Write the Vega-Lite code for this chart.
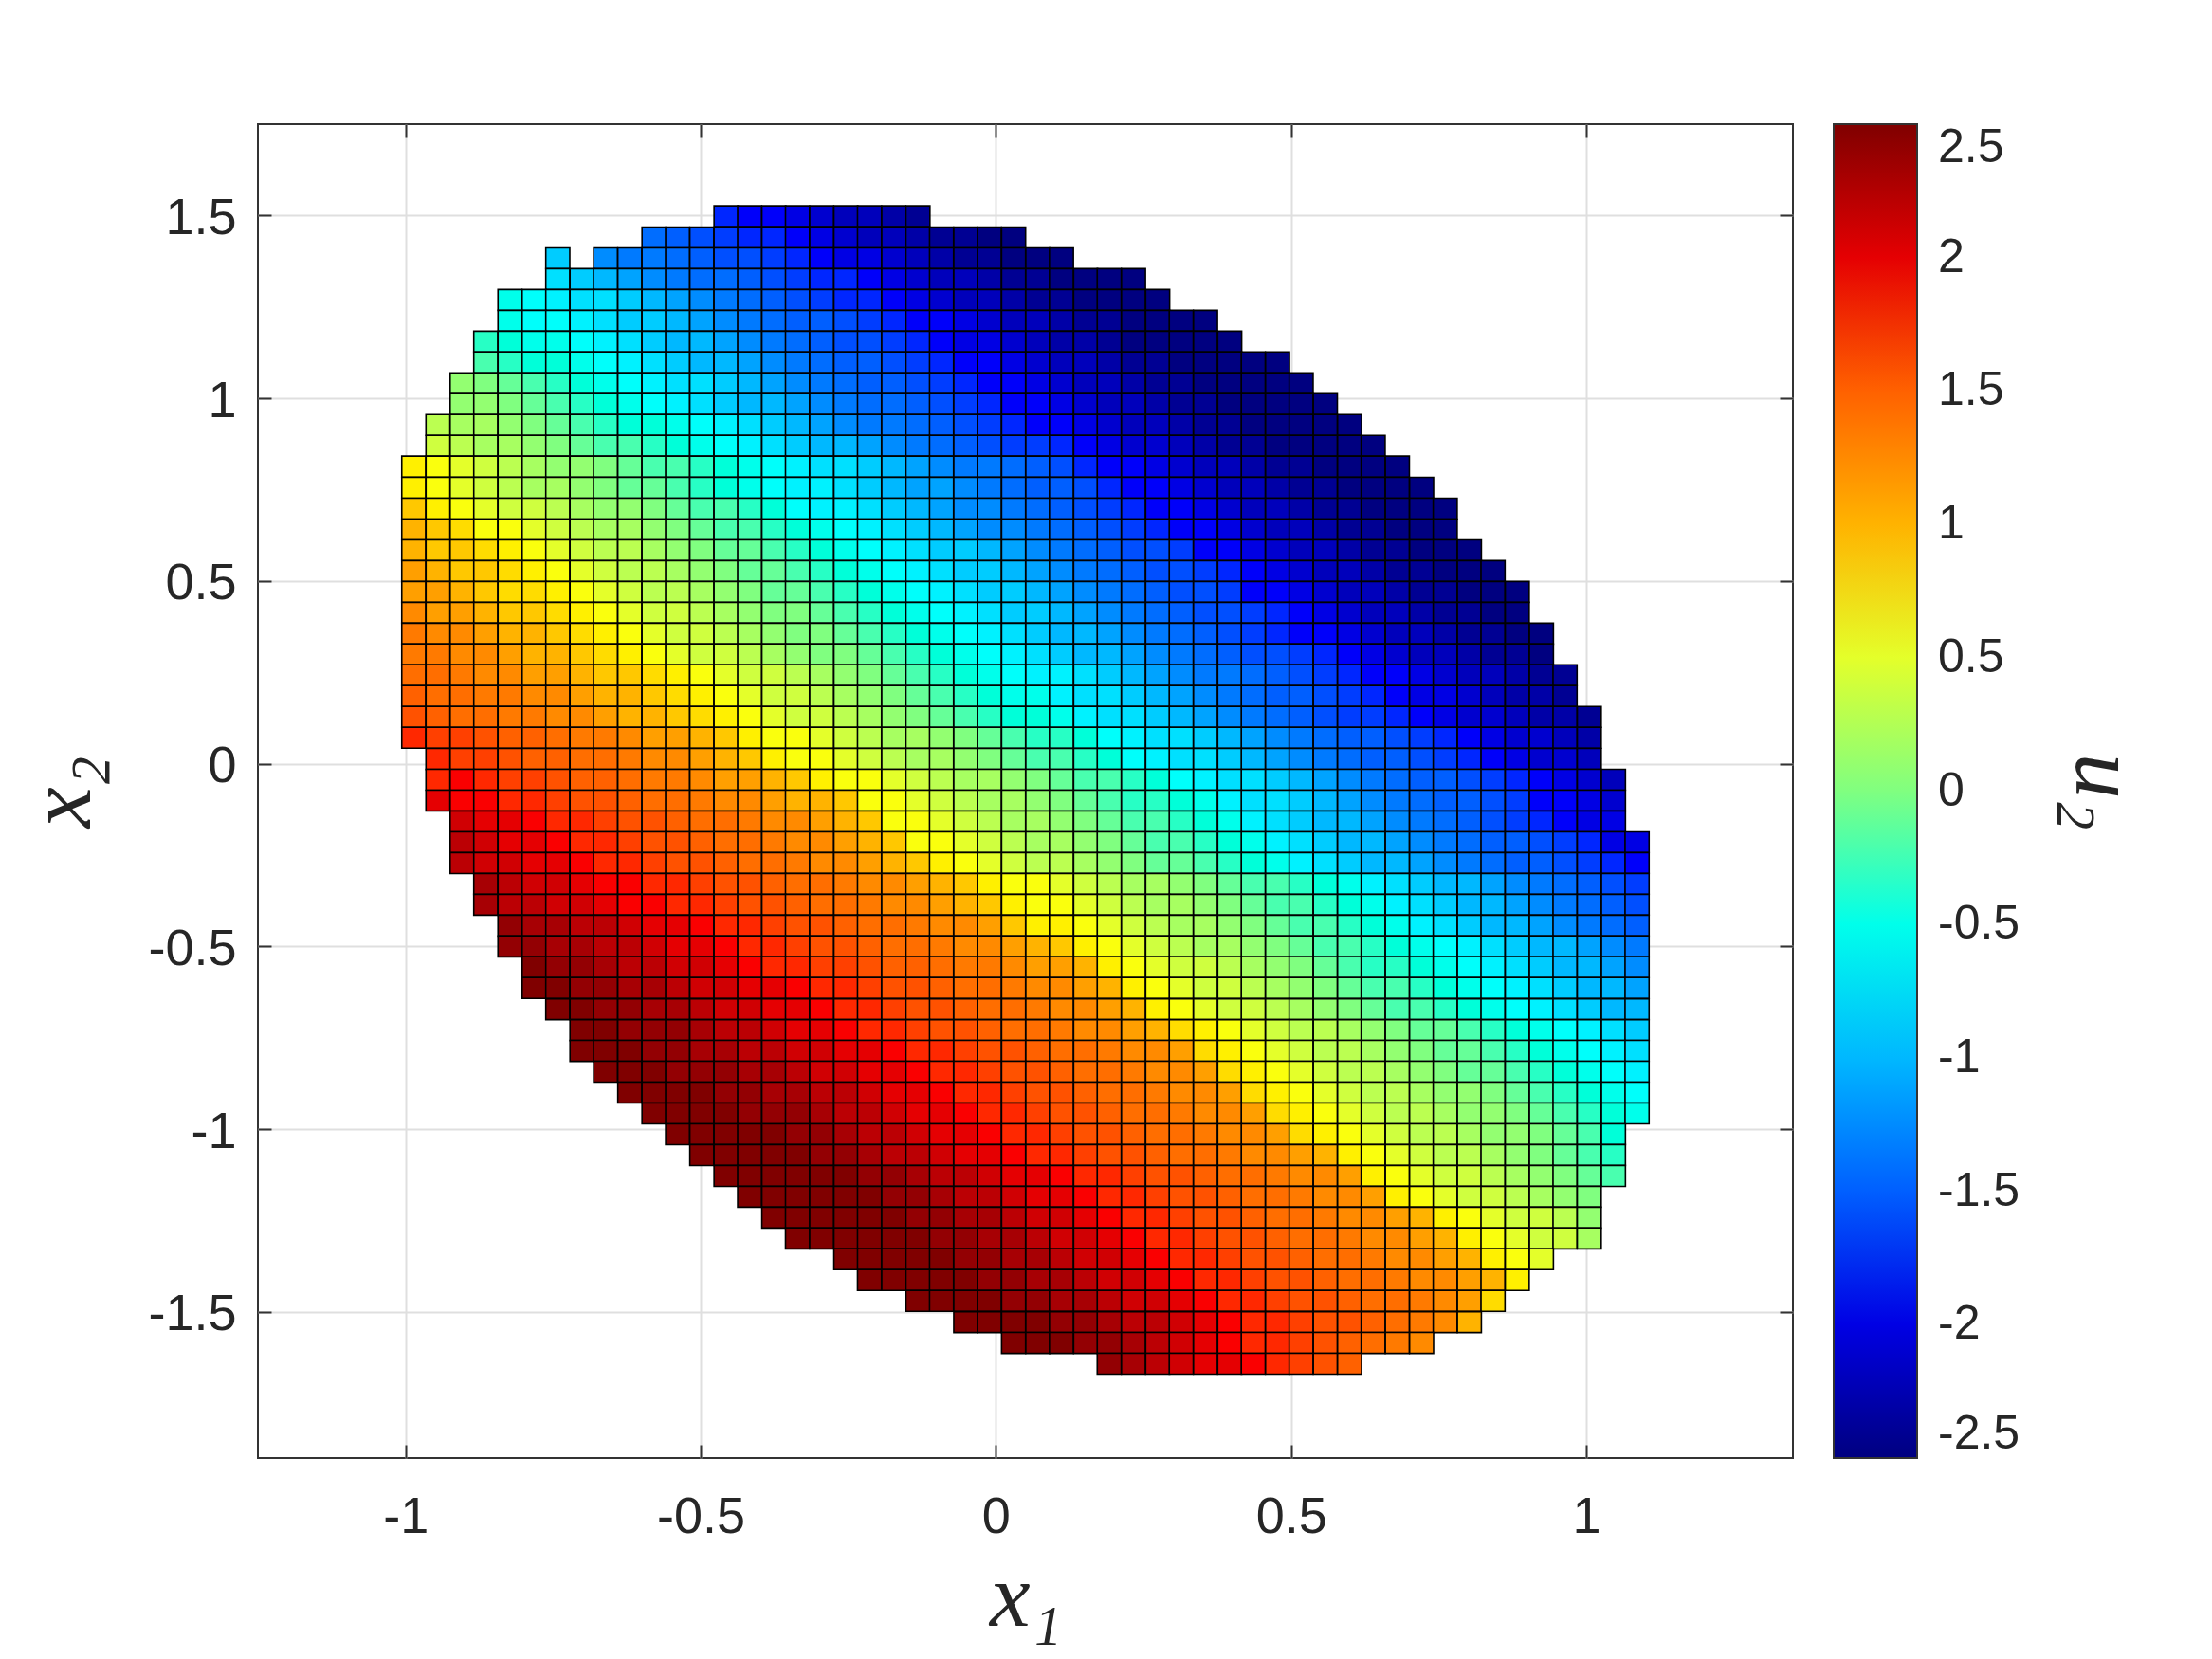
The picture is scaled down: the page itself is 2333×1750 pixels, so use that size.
{"$schema":"https://vega.github.io/schema/vega-lite/v6.json","width":1619,"height":1407,"autosize":"none","padding":{"left":272,"top":131,"right":442,"bottom":212},"background":"white","config":{"view":{"stroke":"#333333","strokeWidth":2},"font":"Liberation Sans"},"data":{"values":[
{"x":-0.457,"y":1.498,"z":-1.8},{"x":-0.417,"y":1.498,"z":-1.9},{"x":-0.376,"y":1.498,"z":-1.9},{"x":-0.336,"y":1.498,"z":-2.0},{"x":-0.295,"y":1.498,"z":-2.1},{"x":-0.254,"y":1.498,"z":-2.2},{"x":-0.214,"y":1.498,"z":-2.2},{"x":-0.173,"y":1.498,"z":-2.3},{"x":-0.132,"y":1.498,"z":-2.4},
{"x":-0.579,"y":1.44,"z":-1.4},{"x":-0.539,"y":1.44,"z":-1.5},{"x":-0.498,"y":1.44,"z":-1.6},{"x":-0.457,"y":1.44,"z":-1.7},{"x":-0.417,"y":1.44,"z":-1.8},{"x":-0.376,"y":1.44,"z":-1.8},{"x":-0.336,"y":1.44,"z":-1.9},{"x":-0.295,"y":1.44,"z":-2.0},{"x":-0.254,"y":1.44,"z":-2.1},{"x":-0.214,"y":1.44,"z":-2.2},{"x":-0.173,"y":1.44,"z":-2.2},{"x":-0.132,"y":1.44,"z":-2.3},{"x":-0.092,"y":1.44,"z":-2.4},{"x":-0.051,"y":1.44,"z":-2.4},{"x":-0.011,"y":1.44,"z":-2.5},{"x":0.03,"y":1.44,"z":-2.5},
{"x":-0.742,"y":1.383,"z":-0.9},{"x":-0.661,"y":1.383,"z":-1.2},{"x":-0.62,"y":1.383,"z":-1.3},{"x":-0.579,"y":1.383,"z":-1.3},{"x":-0.539,"y":1.383,"z":-1.4},{"x":-0.498,"y":1.383,"z":-1.5},{"x":-0.457,"y":1.383,"z":-1.6},{"x":-0.417,"y":1.383,"z":-1.6},{"x":-0.376,"y":1.383,"z":-1.7},{"x":-0.336,"y":1.383,"z":-1.8},{"x":-0.295,"y":1.383,"z":-1.9},{"x":-0.254,"y":1.383,"z":-2.0},{"x":-0.214,"y":1.383,"z":-2.0},{"x":-0.173,"y":1.383,"z":-2.1},{"x":-0.132,"y":1.383,"z":-2.2},{"x":-0.092,"y":1.383,"z":-2.3},{"x":-0.051,"y":1.383,"z":-2.4},{"x":-0.011,"y":1.383,"z":-2.4},{"x":0.03,"y":1.383,"z":-2.5},{"x":0.071,"y":1.383,"z":-2.5},{"x":0.111,"y":1.383,"z":-2.5},
{"x":-0.742,"y":1.326,"z":-0.8},{"x":-0.701,"y":1.326,"z":-0.9},{"x":-0.661,"y":1.326,"z":-1.0},{"x":-0.62,"y":1.326,"z":-1.1},{"x":-0.579,"y":1.326,"z":-1.2},{"x":-0.539,"y":1.326,"z":-1.3},{"x":-0.498,"y":1.326,"z":-1.4},{"x":-0.457,"y":1.326,"z":-1.4},{"x":-0.417,"y":1.326,"z":-1.5},{"x":-0.376,"y":1.326,"z":-1.6},{"x":-0.336,"y":1.326,"z":-1.7},{"x":-0.295,"y":1.326,"z":-1.8},{"x":-0.254,"y":1.326,"z":-1.8},{"x":-0.214,"y":1.326,"z":-1.9},{"x":-0.173,"y":1.326,"z":-2.0},{"x":-0.132,"y":1.326,"z":-2.1},{"x":-0.092,"y":1.326,"z":-2.2},{"x":-0.051,"y":1.326,"z":-2.2},{"x":-0.011,"y":1.326,"z":-2.3},{"x":0.03,"y":1.326,"z":-2.4},{"x":0.071,"y":1.326,"z":-2.4},{"x":0.111,"y":1.326,"z":-2.5},{"x":0.152,"y":1.326,"z":-2.5},{"x":0.192,"y":1.326,"z":-2.5},{"x":0.233,"y":1.326,"z":-2.5},
{"x":-0.823,"y":1.269,"z":-0.5},{"x":-0.782,"y":1.269,"z":-0.6},{"x":-0.742,"y":1.269,"z":-0.7},{"x":-0.701,"y":1.269,"z":-0.8},{"x":-0.661,"y":1.269,"z":-0.8},{"x":-0.62,"y":1.269,"z":-0.9},{"x":-0.579,"y":1.269,"z":-1.0},{"x":-0.539,"y":1.269,"z":-1.1},{"x":-0.498,"y":1.269,"z":-1.2},{"x":-0.457,"y":1.269,"z":-1.3},{"x":-0.417,"y":1.269,"z":-1.4},{"x":-0.376,"y":1.269,"z":-1.5},{"x":-0.336,"y":1.269,"z":-1.6},{"x":-0.295,"y":1.269,"z":-1.7},{"x":-0.254,"y":1.269,"z":-1.8},{"x":-0.214,"y":1.269,"z":-1.8},{"x":-0.173,"y":1.269,"z":-1.9},{"x":-0.132,"y":1.269,"z":-2.0},{"x":-0.092,"y":1.269,"z":-2.1},{"x":-0.051,"y":1.269,"z":-2.2},{"x":-0.011,"y":1.269,"z":-2.2},{"x":0.03,"y":1.269,"z":-2.3},{"x":0.071,"y":1.269,"z":-2.4},{"x":0.111,"y":1.269,"z":-2.4},{"x":0.152,"y":1.269,"z":-2.5},{"x":0.192,"y":1.269,"z":-2.5},{"x":0.233,"y":1.269,"z":-2.5},{"x":0.274,"y":1.269,"z":-2.5},
{"x":-0.823,"y":1.212,"z":-0.5},{"x":-0.782,"y":1.212,"z":-0.6},{"x":-0.742,"y":1.212,"z":-0.6},{"x":-0.701,"y":1.212,"z":-0.7},{"x":-0.661,"y":1.212,"z":-0.8},{"x":-0.62,"y":1.212,"z":-0.9},{"x":-0.579,"y":1.212,"z":-0.9},{"x":-0.539,"y":1.212,"z":-1.0},{"x":-0.498,"y":1.212,"z":-1.1},{"x":-0.457,"y":1.212,"z":-1.2},{"x":-0.417,"y":1.212,"z":-1.3},{"x":-0.376,"y":1.212,"z":-1.4},{"x":-0.336,"y":1.212,"z":-1.5},{"x":-0.295,"y":1.212,"z":-1.5},{"x":-0.254,"y":1.212,"z":-1.6},{"x":-0.214,"y":1.212,"z":-1.7},{"x":-0.173,"y":1.212,"z":-1.8},{"x":-0.132,"y":1.212,"z":-1.9},{"x":-0.092,"y":1.212,"z":-1.9},{"x":-0.051,"y":1.212,"z":-2.0},{"x":-0.011,"y":1.212,"z":-2.1},{"x":0.03,"y":1.212,"z":-2.2},{"x":0.071,"y":1.212,"z":-2.2},{"x":0.111,"y":1.212,"z":-2.3},{"x":0.152,"y":1.212,"z":-2.4},{"x":0.192,"y":1.212,"z":-2.4},{"x":0.233,"y":1.212,"z":-2.5},{"x":0.274,"y":1.212,"z":-2.5},{"x":0.314,"y":1.212,"z":-2.5},{"x":0.355,"y":1.212,"z":-2.5},
{"x":-0.864,"y":1.155,"z":-0.3},{"x":-0.823,"y":1.155,"z":-0.4},{"x":-0.782,"y":1.155,"z":-0.5},{"x":-0.742,"y":1.155,"z":-0.5},{"x":-0.701,"y":1.155,"z":-0.6},{"x":-0.661,"y":1.155,"z":-0.7},{"x":-0.62,"y":1.155,"z":-0.8},{"x":-0.579,"y":1.155,"z":-0.9},{"x":-0.539,"y":1.155,"z":-1.0},{"x":-0.498,"y":1.155,"z":-1.0},{"x":-0.457,"y":1.155,"z":-1.1},{"x":-0.417,"y":1.155,"z":-1.2},{"x":-0.376,"y":1.155,"z":-1.3},{"x":-0.336,"y":1.155,"z":-1.4},{"x":-0.295,"y":1.155,"z":-1.5},{"x":-0.254,"y":1.155,"z":-1.6},{"x":-0.214,"y":1.155,"z":-1.6},{"x":-0.173,"y":1.155,"z":-1.7},{"x":-0.132,"y":1.155,"z":-1.8},{"x":-0.092,"y":1.155,"z":-1.9},{"x":-0.051,"y":1.155,"z":-2.0},{"x":-0.011,"y":1.155,"z":-2.0},{"x":0.03,"y":1.155,"z":-2.1},{"x":0.071,"y":1.155,"z":-2.2},{"x":0.111,"y":1.155,"z":-2.3},{"x":0.152,"y":1.155,"z":-2.3},{"x":0.192,"y":1.155,"z":-2.4},{"x":0.233,"y":1.155,"z":-2.5},{"x":0.274,"y":1.155,"z":-2.5},{"x":0.314,"y":1.155,"z":-2.5},{"x":0.355,"y":1.155,"z":-2.5},{"x":0.396,"y":1.155,"z":-2.5},
{"x":-0.864,"y":1.098,"z":-0.2},{"x":-0.823,"y":1.098,"z":-0.3},{"x":-0.782,"y":1.098,"z":-0.4},{"x":-0.742,"y":1.098,"z":-0.4},{"x":-0.701,"y":1.098,"z":-0.5},{"x":-0.661,"y":1.098,"z":-0.6},{"x":-0.62,"y":1.098,"z":-0.7},{"x":-0.579,"y":1.098,"z":-0.8},{"x":-0.539,"y":1.098,"z":-0.9},{"x":-0.498,"y":1.098,"z":-1.0},{"x":-0.457,"y":1.098,"z":-1.0},{"x":-0.417,"y":1.098,"z":-1.1},{"x":-0.376,"y":1.098,"z":-1.2},{"x":-0.336,"y":1.098,"z":-1.3},{"x":-0.295,"y":1.098,"z":-1.4},{"x":-0.254,"y":1.098,"z":-1.5},{"x":-0.214,"y":1.098,"z":-1.5},{"x":-0.173,"y":1.098,"z":-1.6},{"x":-0.132,"y":1.098,"z":-1.7},{"x":-0.092,"y":1.098,"z":-1.8},{"x":-0.051,"y":1.098,"z":-1.9},{"x":-0.011,"y":1.098,"z":-1.9},{"x":0.03,"y":1.098,"z":-2.0},{"x":0.071,"y":1.098,"z":-2.1},{"x":0.111,"y":1.098,"z":-2.2},{"x":0.152,"y":1.098,"z":-2.2},{"x":0.192,"y":1.098,"z":-2.3},{"x":0.233,"y":1.098,"z":-2.4},{"x":0.274,"y":1.098,"z":-2.4},{"x":0.314,"y":1.098,"z":-2.5},{"x":0.355,"y":1.098,"z":-2.5},{"x":0.396,"y":1.098,"z":-2.5},{"x":0.436,"y":1.098,"z":-2.5},{"x":0.477,"y":1.098,"z":-2.5},
{"x":-0.904,"y":1.041,"z":0.1},{"x":-0.864,"y":1.041,"z":0.0},{"x":-0.823,"y":1.041,"z":-0.1},{"x":-0.782,"y":1.041,"z":-0.2},{"x":-0.742,"y":1.041,"z":-0.3},{"x":-0.701,"y":1.041,"z":-0.4},{"x":-0.661,"y":1.041,"z":-0.5},{"x":-0.62,"y":1.041,"z":-0.6},{"x":-0.579,"y":1.041,"z":-0.7},{"x":-0.539,"y":1.041,"z":-0.8},{"x":-0.498,"y":1.041,"z":-0.8},{"x":-0.457,"y":1.041,"z":-0.9},{"x":-0.417,"y":1.041,"z":-1.0},{"x":-0.376,"y":1.041,"z":-1.1},{"x":-0.336,"y":1.041,"z":-1.2},{"x":-0.295,"y":1.041,"z":-1.3},{"x":-0.254,"y":1.041,"z":-1.4},{"x":-0.214,"y":1.041,"z":-1.5},{"x":-0.173,"y":1.041,"z":-1.5},{"x":-0.132,"y":1.041,"z":-1.6},{"x":-0.092,"y":1.041,"z":-1.7},{"x":-0.051,"y":1.041,"z":-1.8},{"x":-0.011,"y":1.041,"z":-1.9},{"x":0.03,"y":1.041,"z":-1.9},{"x":0.071,"y":1.041,"z":-2.0},{"x":0.111,"y":1.041,"z":-2.1},{"x":0.152,"y":1.041,"z":-2.2},{"x":0.192,"y":1.041,"z":-2.2},{"x":0.233,"y":1.041,"z":-2.3},{"x":0.274,"y":1.041,"z":-2.4},{"x":0.314,"y":1.041,"z":-2.4},{"x":0.355,"y":1.041,"z":-2.5},{"x":0.396,"y":1.041,"z":-2.5},{"x":0.436,"y":1.041,"z":-2.5},{"x":0.477,"y":1.041,"z":-2.5},{"x":0.517,"y":1.041,"z":-2.5},
{"x":-0.904,"y":0.984,"z":0.1},{"x":-0.864,"y":0.984,"z":0.1},{"x":-0.823,"y":0.984,"z":0.0},{"x":-0.782,"y":0.984,"z":-0.1},{"x":-0.742,"y":0.984,"z":-0.2},{"x":-0.701,"y":0.984,"z":-0.3},{"x":-0.661,"y":0.984,"z":-0.4},{"x":-0.62,"y":0.984,"z":-0.5},{"x":-0.579,"y":0.984,"z":-0.6},{"x":-0.539,"y":0.984,"z":-0.7},{"x":-0.498,"y":0.984,"z":-0.8},{"x":-0.457,"y":0.984,"z":-0.9},{"x":-0.417,"y":0.984,"z":-1.0},{"x":-0.376,"y":0.984,"z":-1.0},{"x":-0.336,"y":0.984,"z":-1.1},{"x":-0.295,"y":0.984,"z":-1.2},{"x":-0.254,"y":0.984,"z":-1.3},{"x":-0.214,"y":0.984,"z":-1.4},{"x":-0.173,"y":0.984,"z":-1.4},{"x":-0.132,"y":0.984,"z":-1.5},{"x":-0.092,"y":0.984,"z":-1.6},{"x":-0.051,"y":0.984,"z":-1.7},{"x":-0.011,"y":0.984,"z":-1.8},{"x":0.03,"y":0.984,"z":-1.9},{"x":0.071,"y":0.984,"z":-1.9},{"x":0.111,"y":0.984,"z":-2.0},{"x":0.152,"y":0.984,"z":-2.1},{"x":0.192,"y":0.984,"z":-2.2},{"x":0.233,"y":0.984,"z":-2.2},{"x":0.274,"y":0.984,"z":-2.3},{"x":0.314,"y":0.984,"z":-2.4},{"x":0.355,"y":0.984,"z":-2.4},{"x":0.396,"y":0.984,"z":-2.5},{"x":0.436,"y":0.984,"z":-2.5},{"x":0.477,"y":0.984,"z":-2.5},{"x":0.517,"y":0.984,"z":-2.5},{"x":0.558,"y":0.984,"z":-2.5},
{"x":-0.945,"y":0.927,"z":0.3},{"x":-0.904,"y":0.927,"z":0.2},{"x":-0.864,"y":0.927,"z":0.2},{"x":-0.823,"y":0.927,"z":0.1},{"x":-0.782,"y":0.927,"z":0.0},{"x":-0.742,"y":0.927,"z":-0.1},{"x":-0.701,"y":0.927,"z":-0.2},{"x":-0.661,"y":0.927,"z":-0.3},{"x":-0.62,"y":0.927,"z":-0.4},{"x":-0.579,"y":0.927,"z":-0.4},{"x":-0.539,"y":0.927,"z":-0.5},{"x":-0.498,"y":0.927,"z":-0.6},{"x":-0.457,"y":0.927,"z":-0.7},{"x":-0.417,"y":0.927,"z":-0.8},{"x":-0.376,"y":0.927,"z":-0.9},{"x":-0.336,"y":0.927,"z":-1.0},{"x":-0.295,"y":0.927,"z":-1.1},{"x":-0.254,"y":0.927,"z":-1.2},{"x":-0.214,"y":0.927,"z":-1.3},{"x":-0.173,"y":0.927,"z":-1.3},{"x":-0.132,"y":0.927,"z":-1.4},{"x":-0.092,"y":0.927,"z":-1.5},{"x":-0.051,"y":0.927,"z":-1.6},{"x":-0.011,"y":0.927,"z":-1.7},{"x":0.03,"y":0.927,"z":-1.8},{"x":0.071,"y":0.927,"z":-1.9},{"x":0.111,"y":0.927,"z":-1.9},{"x":0.152,"y":0.927,"z":-2.0},{"x":0.192,"y":0.927,"z":-2.1},{"x":0.233,"y":0.927,"z":-2.2},{"x":0.274,"y":0.927,"z":-2.2},{"x":0.314,"y":0.927,"z":-2.3},{"x":0.355,"y":0.927,"z":-2.4},{"x":0.396,"y":0.927,"z":-2.4},{"x":0.436,"y":0.927,"z":-2.5},{"x":0.477,"y":0.927,"z":-2.5},{"x":0.517,"y":0.927,"z":-2.5},{"x":0.558,"y":0.927,"z":-2.5},{"x":0.599,"y":0.927,"z":-2.5},
{"x":-0.945,"y":0.87,"z":0.4},{"x":-0.904,"y":0.87,"z":0.3},{"x":-0.864,"y":0.87,"z":0.2},{"x":-0.823,"y":0.87,"z":0.2},{"x":-0.782,"y":0.87,"z":0.1},{"x":-0.742,"y":0.87,"z":0.0},{"x":-0.701,"y":0.87,"z":-0.1},{"x":-0.661,"y":0.87,"z":-0.2},{"x":-0.62,"y":0.87,"z":-0.2},{"x":-0.579,"y":0.87,"z":-0.3},{"x":-0.539,"y":0.87,"z":-0.4},{"x":-0.498,"y":0.87,"z":-0.5},{"x":-0.457,"y":0.87,"z":-0.6},{"x":-0.417,"y":0.87,"z":-0.7},{"x":-0.376,"y":0.87,"z":-0.8},{"x":-0.336,"y":0.87,"z":-0.9},{"x":-0.295,"y":0.87,"z":-1.0},{"x":-0.254,"y":0.87,"z":-1.0},{"x":-0.214,"y":0.87,"z":-1.1},{"x":-0.173,"y":0.87,"z":-1.2},{"x":-0.132,"y":0.87,"z":-1.3},{"x":-0.092,"y":0.87,"z":-1.4},{"x":-0.051,"y":0.87,"z":-1.5},{"x":-0.011,"y":0.87,"z":-1.6},{"x":0.03,"y":0.87,"z":-1.7},{"x":0.071,"y":0.87,"z":-1.7},{"x":0.111,"y":0.87,"z":-1.8},{"x":0.152,"y":0.87,"z":-1.9},{"x":0.192,"y":0.87,"z":-2.0},{"x":0.233,"y":0.87,"z":-2.1},{"x":0.274,"y":0.87,"z":-2.1},{"x":0.314,"y":0.87,"z":-2.2},{"x":0.355,"y":0.87,"z":-2.3},{"x":0.396,"y":0.87,"z":-2.4},{"x":0.436,"y":0.87,"z":-2.4},{"x":0.477,"y":0.87,"z":-2.5},{"x":0.517,"y":0.87,"z":-2.5},{"x":0.558,"y":0.87,"z":-2.5},{"x":0.599,"y":0.87,"z":-2.5},{"x":0.639,"y":0.87,"z":-2.5},
{"x":-0.986,"y":0.813,"z":0.7},{"x":-0.945,"y":0.813,"z":0.6},{"x":-0.904,"y":0.813,"z":0.5},{"x":-0.864,"y":0.813,"z":0.4},{"x":-0.823,"y":0.813,"z":0.3},{"x":-0.782,"y":0.813,"z":0.2},{"x":-0.742,"y":0.813,"z":0.1},{"x":-0.701,"y":0.813,"z":0.1},{"x":-0.661,"y":0.813,"z":0.0},{"x":-0.62,"y":0.813,"z":-0.1},{"x":-0.579,"y":0.813,"z":-0.2},{"x":-0.539,"y":0.813,"z":-0.2},{"x":-0.498,"y":0.813,"z":-0.3},{"x":-0.457,"y":0.813,"z":-0.4},{"x":-0.417,"y":0.813,"z":-0.5},{"x":-0.376,"y":0.813,"z":-0.6},{"x":-0.336,"y":0.813,"z":-0.7},{"x":-0.295,"y":0.813,"z":-0.8},{"x":-0.254,"y":0.813,"z":-0.8},{"x":-0.214,"y":0.813,"z":-0.9},{"x":-0.173,"y":0.813,"z":-1.0},{"x":-0.132,"y":0.813,"z":-1.1},{"x":-0.092,"y":0.813,"z":-1.2},{"x":-0.051,"y":0.813,"z":-1.3},{"x":-0.011,"y":0.813,"z":-1.3},{"x":0.03,"y":0.813,"z":-1.4},{"x":0.071,"y":0.813,"z":-1.5},{"x":0.111,"y":0.813,"z":-1.6},{"x":0.152,"y":0.813,"z":-1.8},{"x":0.192,"y":0.813,"z":-1.9},{"x":0.233,"y":0.813,"z":-1.9},{"x":0.274,"y":0.813,"z":-2.0},{"x":0.314,"y":0.813,"z":-2.1},{"x":0.355,"y":0.813,"z":-2.2},{"x":0.396,"y":0.813,"z":-2.2},{"x":0.436,"y":0.813,"z":-2.3},{"x":0.477,"y":0.813,"z":-2.4},{"x":0.517,"y":0.813,"z":-2.4},{"x":0.558,"y":0.813,"z":-2.5},{"x":0.599,"y":0.813,"z":-2.5},{"x":0.639,"y":0.813,"z":-2.5},{"x":0.68,"y":0.813,"z":-2.5},
{"x":-0.986,"y":0.755,"z":0.7},{"x":-0.945,"y":0.755,"z":0.6},{"x":-0.904,"y":0.755,"z":0.5},{"x":-0.864,"y":0.755,"z":0.4},{"x":-0.823,"y":0.755,"z":0.3},{"x":-0.782,"y":0.755,"z":0.2},{"x":-0.742,"y":0.755,"z":0.2},{"x":-0.701,"y":0.755,"z":0.1},{"x":-0.661,"y":0.755,"z":0.0},{"x":-0.62,"y":0.755,"z":-0.1},{"x":-0.579,"y":0.755,"z":-0.1},{"x":-0.539,"y":0.755,"z":-0.2},{"x":-0.498,"y":0.755,"z":-0.3},{"x":-0.457,"y":0.755,"z":-0.4},{"x":-0.417,"y":0.755,"z":-0.5},{"x":-0.376,"y":0.755,"z":-0.6},{"x":-0.336,"y":0.755,"z":-0.7},{"x":-0.295,"y":0.755,"z":-0.7},{"x":-0.254,"y":0.755,"z":-0.8},{"x":-0.214,"y":0.755,"z":-0.9},{"x":-0.173,"y":0.755,"z":-1.0},{"x":-0.132,"y":0.755,"z":-1.1},{"x":-0.092,"y":0.755,"z":-1.1},{"x":-0.051,"y":0.755,"z":-1.2},{"x":-0.011,"y":0.755,"z":-1.3},{"x":0.03,"y":0.755,"z":-1.4},{"x":0.071,"y":0.755,"z":-1.5},{"x":0.111,"y":0.755,"z":-1.5},{"x":0.152,"y":0.755,"z":-1.6},{"x":0.192,"y":0.755,"z":-1.8},{"x":0.233,"y":0.755,"z":-1.9},{"x":0.274,"y":0.755,"z":-1.9},{"x":0.314,"y":0.755,"z":-2.0},{"x":0.355,"y":0.755,"z":-2.1},{"x":0.396,"y":0.755,"z":-2.2},{"x":0.436,"y":0.755,"z":-2.2},{"x":0.477,"y":0.755,"z":-2.3},{"x":0.517,"y":0.755,"z":-2.4},{"x":0.558,"y":0.755,"z":-2.4},{"x":0.599,"y":0.755,"z":-2.5},{"x":0.639,"y":0.755,"z":-2.5},{"x":0.68,"y":0.755,"z":-2.5},{"x":0.721,"y":0.755,"z":-2.5},
{"x":-0.986,"y":0.698,"z":0.9},{"x":-0.945,"y":0.698,"z":0.7},{"x":-0.904,"y":0.698,"z":0.6},{"x":-0.864,"y":0.698,"z":0.5},{"x":-0.823,"y":0.698,"z":0.4},{"x":-0.782,"y":0.698,"z":0.4},{"x":-0.742,"y":0.698,"z":0.3},{"x":-0.701,"y":0.698,"z":0.2},{"x":-0.661,"y":0.698,"z":0.1},{"x":-0.62,"y":0.698,"z":0.1},{"x":-0.579,"y":0.698,"z":0.0},{"x":-0.539,"y":0.698,"z":-0.1},{"x":-0.498,"y":0.698,"z":-0.2},{"x":-0.457,"y":0.698,"z":-0.2},{"x":-0.417,"y":0.698,"z":-0.3},{"x":-0.376,"y":0.698,"z":-0.4},{"x":-0.336,"y":0.698,"z":-0.6},{"x":-0.295,"y":0.698,"z":-0.7},{"x":-0.254,"y":0.698,"z":-0.7},{"x":-0.214,"y":0.698,"z":-0.8},{"x":-0.173,"y":0.698,"z":-0.9},{"x":-0.132,"y":0.698,"z":-1.0},{"x":-0.092,"y":0.698,"z":-1.1},{"x":-0.051,"y":0.698,"z":-1.2},{"x":-0.011,"y":0.698,"z":-1.2},{"x":0.03,"y":0.698,"z":-1.3},{"x":0.071,"y":0.698,"z":-1.4},{"x":0.111,"y":0.698,"z":-1.5},{"x":0.152,"y":0.698,"z":-1.6},{"x":0.192,"y":0.698,"z":-1.7},{"x":0.233,"y":0.698,"z":-1.8},{"x":0.274,"y":0.698,"z":-1.9},{"x":0.314,"y":0.698,"z":-1.9},{"x":0.355,"y":0.698,"z":-2.0},{"x":0.396,"y":0.698,"z":-2.1},{"x":0.436,"y":0.698,"z":-2.2},{"x":0.477,"y":0.698,"z":-2.2},{"x":0.517,"y":0.698,"z":-2.3},{"x":0.558,"y":0.698,"z":-2.4},{"x":0.599,"y":0.698,"z":-2.4},{"x":0.639,"y":0.698,"z":-2.5},{"x":0.68,"y":0.698,"z":-2.5},{"x":0.721,"y":0.698,"z":-2.5},{"x":0.761,"y":0.698,"z":-2.5},
{"x":-0.986,"y":0.641,"z":1.0},{"x":-0.945,"y":0.641,"z":0.9},{"x":-0.904,"y":0.641,"z":0.8},{"x":-0.864,"y":0.641,"z":0.6},{"x":-0.823,"y":0.641,"z":0.6},{"x":-0.782,"y":0.641,"z":0.5},{"x":-0.742,"y":0.641,"z":0.4},{"x":-0.701,"y":0.641,"z":0.3},{"x":-0.661,"y":0.641,"z":0.2},{"x":-0.62,"y":0.641,"z":0.2},{"x":-0.579,"y":0.641,"z":0.1},{"x":-0.539,"y":0.641,"z":0.0},{"x":-0.498,"y":0.641,"z":-0.1},{"x":-0.457,"y":0.641,"z":-0.2},{"x":-0.417,"y":0.641,"z":-0.2},{"x":-0.376,"y":0.641,"z":-0.3},{"x":-0.336,"y":0.641,"z":-0.4},{"x":-0.295,"y":0.641,"z":-0.5},{"x":-0.254,"y":0.641,"z":-0.6},{"x":-0.214,"y":0.641,"z":-0.7},{"x":-0.173,"y":0.641,"z":-0.8},{"x":-0.132,"y":0.641,"z":-0.9},{"x":-0.092,"y":0.641,"z":-1.0},{"x":-0.051,"y":0.641,"z":-1.1},{"x":-0.011,"y":0.641,"z":-1.2},{"x":0.03,"y":0.641,"z":-1.2},{"x":0.071,"y":0.641,"z":-1.3},{"x":0.111,"y":0.641,"z":-1.4},{"x":0.152,"y":0.641,"z":-1.5},{"x":0.192,"y":0.641,"z":-1.6},{"x":0.233,"y":0.641,"z":-1.7},{"x":0.274,"y":0.641,"z":-1.8},{"x":0.314,"y":0.641,"z":-1.9},{"x":0.355,"y":0.641,"z":-1.9},{"x":0.396,"y":0.641,"z":-2.0},{"x":0.436,"y":0.641,"z":-2.1},{"x":0.477,"y":0.641,"z":-2.2},{"x":0.517,"y":0.641,"z":-2.2},{"x":0.558,"y":0.641,"z":-2.3},{"x":0.599,"y":0.641,"z":-2.4},{"x":0.639,"y":0.641,"z":-2.4},{"x":0.68,"y":0.641,"z":-2.5},{"x":0.721,"y":0.641,"z":-2.5},{"x":0.761,"y":0.641,"z":-2.5},
{"x":-0.986,"y":0.584,"z":1.0},{"x":-0.945,"y":0.584,"z":0.9},{"x":-0.904,"y":0.584,"z":0.9},{"x":-0.864,"y":0.584,"z":0.8},{"x":-0.823,"y":0.584,"z":0.7},{"x":-0.782,"y":0.584,"z":0.6},{"x":-0.742,"y":0.584,"z":0.5},{"x":-0.701,"y":0.584,"z":0.4},{"x":-0.661,"y":0.584,"z":0.3},{"x":-0.62,"y":0.584,"z":0.3},{"x":-0.579,"y":0.584,"z":0.2},{"x":-0.539,"y":0.584,"z":0.1},{"x":-0.498,"y":0.584,"z":0.0},{"x":-0.457,"y":0.584,"z":-0.1},{"x":-0.417,"y":0.584,"z":-0.1},{"x":-0.376,"y":0.584,"z":-0.2},{"x":-0.336,"y":0.584,"z":-0.3},{"x":-0.295,"y":0.584,"z":-0.4},{"x":-0.254,"y":0.584,"z":-0.5},{"x":-0.214,"y":0.584,"z":-0.6},{"x":-0.173,"y":0.584,"z":-0.7},{"x":-0.132,"y":0.584,"z":-0.8},{"x":-0.092,"y":0.584,"z":-0.9},{"x":-0.051,"y":0.584,"z":-0.9},{"x":-0.011,"y":0.584,"z":-1.0},{"x":0.03,"y":0.584,"z":-1.1},{"x":0.071,"y":0.584,"z":-1.2},{"x":0.111,"y":0.584,"z":-1.3},{"x":0.152,"y":0.584,"z":-1.4},{"x":0.192,"y":0.584,"z":-1.5},{"x":0.233,"y":0.584,"z":-1.6},{"x":0.274,"y":0.584,"z":-1.6},{"x":0.314,"y":0.584,"z":-1.7},{"x":0.355,"y":0.584,"z":-1.9},{"x":0.396,"y":0.584,"z":-1.9},{"x":0.436,"y":0.584,"z":-2.0},{"x":0.477,"y":0.584,"z":-2.1},{"x":0.517,"y":0.584,"z":-2.2},{"x":0.558,"y":0.584,"z":-2.2},{"x":0.599,"y":0.584,"z":-2.3},{"x":0.639,"y":0.584,"z":-2.4},{"x":0.68,"y":0.584,"z":-2.4},{"x":0.721,"y":0.584,"z":-2.5},{"x":0.761,"y":0.584,"z":-2.5},{"x":0.802,"y":0.584,"z":-2.5},
{"x":-0.986,"y":0.527,"z":1.1},{"x":-0.945,"y":0.527,"z":1.0},{"x":-0.904,"y":0.527,"z":0.9},{"x":-0.864,"y":0.527,"z":0.9},{"x":-0.823,"y":0.527,"z":0.8},{"x":-0.782,"y":0.527,"z":0.7},{"x":-0.742,"y":0.527,"z":0.6},{"x":-0.701,"y":0.527,"z":0.5},{"x":-0.661,"y":0.527,"z":0.4},{"x":-0.62,"y":0.527,"z":0.3},{"x":-0.579,"y":0.527,"z":0.3},{"x":-0.539,"y":0.527,"z":0.2},{"x":-0.498,"y":0.527,"z":0.1},{"x":-0.457,"y":0.527,"z":0.0},{"x":-0.417,"y":0.527,"z":-0.1},{"x":-0.376,"y":0.527,"z":-0.1},{"x":-0.336,"y":0.527,"z":-0.2},{"x":-0.295,"y":0.527,"z":-0.3},{"x":-0.254,"y":0.527,"z":-0.4},{"x":-0.214,"y":0.527,"z":-0.5},{"x":-0.173,"y":0.527,"z":-0.6},{"x":-0.132,"y":0.527,"z":-0.7},{"x":-0.092,"y":0.527,"z":-0.8},{"x":-0.051,"y":0.527,"z":-0.9},{"x":-0.011,"y":0.527,"z":-0.9},{"x":0.03,"y":0.527,"z":-1.0},{"x":0.071,"y":0.527,"z":-1.1},{"x":0.111,"y":0.527,"z":-1.2},{"x":0.152,"y":0.527,"z":-1.3},{"x":0.192,"y":0.527,"z":-1.4},{"x":0.233,"y":0.527,"z":-1.5},{"x":0.274,"y":0.527,"z":-1.6},{"x":0.314,"y":0.527,"z":-1.6},{"x":0.355,"y":0.527,"z":-1.7},{"x":0.396,"y":0.527,"z":-1.8},{"x":0.436,"y":0.527,"z":-1.9},{"x":0.477,"y":0.527,"z":-2.0},{"x":0.517,"y":0.527,"z":-2.1},{"x":0.558,"y":0.527,"z":-2.2},{"x":0.599,"y":0.527,"z":-2.2},{"x":0.639,"y":0.527,"z":-2.3},{"x":0.68,"y":0.527,"z":-2.4},{"x":0.721,"y":0.527,"z":-2.4},{"x":0.761,"y":0.527,"z":-2.5},{"x":0.802,"y":0.527,"z":-2.5},{"x":0.842,"y":0.527,"z":-2.5},
{"x":-0.986,"y":0.47,"z":1.1},{"x":-0.945,"y":0.47,"z":1.1},{"x":-0.904,"y":0.47,"z":1.0},{"x":-0.864,"y":0.47,"z":0.9},{"x":-0.823,"y":0.47,"z":0.8},{"x":-0.782,"y":0.47,"z":0.8},{"x":-0.742,"y":0.47,"z":0.7},{"x":-0.701,"y":0.47,"z":0.6},{"x":-0.661,"y":0.47,"z":0.5},{"x":-0.62,"y":0.47,"z":0.4},{"x":-0.579,"y":0.47,"z":0.3},{"x":-0.539,"y":0.47,"z":0.3},{"x":-0.498,"y":0.47,"z":0.2},{"x":-0.457,"y":0.47,"z":0.1},{"x":-0.417,"y":0.47,"z":0.0},{"x":-0.376,"y":0.47,"z":-0.1},{"x":-0.336,"y":0.47,"z":-0.1},{"x":-0.295,"y":0.47,"z":-0.2},{"x":-0.254,"y":0.47,"z":-0.3},{"x":-0.214,"y":0.47,"z":-0.4},{"x":-0.173,"y":0.47,"z":-0.5},{"x":-0.132,"y":0.47,"z":-0.6},{"x":-0.092,"y":0.47,"z":-0.7},{"x":-0.051,"y":0.47,"z":-0.8},{"x":-0.011,"y":0.47,"z":-0.9},{"x":0.03,"y":0.47,"z":-0.9},{"x":0.071,"y":0.47,"z":-1.0},{"x":0.111,"y":0.47,"z":-1.1},{"x":0.152,"y":0.47,"z":-1.2},{"x":0.192,"y":0.47,"z":-1.3},{"x":0.233,"y":0.47,"z":-1.4},{"x":0.274,"y":0.47,"z":-1.5},{"x":0.314,"y":0.47,"z":-1.6},{"x":0.355,"y":0.47,"z":-1.6},{"x":0.396,"y":0.47,"z":-1.7},{"x":0.436,"y":0.47,"z":-1.9},{"x":0.477,"y":0.47,"z":-1.9},{"x":0.517,"y":0.47,"z":-2.0},{"x":0.558,"y":0.47,"z":-2.1},{"x":0.599,"y":0.47,"z":-2.2},{"x":0.639,"y":0.47,"z":-2.2},{"x":0.68,"y":0.47,"z":-2.3},{"x":0.721,"y":0.47,"z":-2.4},{"x":0.761,"y":0.47,"z":-2.4},{"x":0.802,"y":0.47,"z":-2.5},{"x":0.842,"y":0.47,"z":-2.5},{"x":0.883,"y":0.47,"z":-2.5},
{"x":-0.986,"y":0.413,"z":1.2},{"x":-0.945,"y":0.413,"z":1.1},{"x":-0.904,"y":0.413,"z":1.1},{"x":-0.864,"y":0.413,"z":1.0},{"x":-0.823,"y":0.413,"z":0.9},{"x":-0.782,"y":0.413,"z":0.9},{"x":-0.742,"y":0.413,"z":0.8},{"x":-0.701,"y":0.413,"z":0.7},{"x":-0.661,"y":0.413,"z":0.6},{"x":-0.62,"y":0.413,"z":0.5},{"x":-0.579,"y":0.413,"z":0.4},{"x":-0.539,"y":0.413,"z":0.4},{"x":-0.498,"y":0.413,"z":0.3},{"x":-0.457,"y":0.413,"z":0.2},{"x":-0.417,"y":0.413,"z":0.1},{"x":-0.376,"y":0.413,"z":0.0},{"x":-0.336,"y":0.413,"z":0.0},{"x":-0.295,"y":0.413,"z":-0.1},{"x":-0.254,"y":0.413,"z":-0.2},{"x":-0.214,"y":0.413,"z":-0.3},{"x":-0.173,"y":0.413,"z":-0.4},{"x":-0.132,"y":0.413,"z":-0.5},{"x":-0.092,"y":0.413,"z":-0.6},{"x":-0.051,"y":0.413,"z":-0.7},{"x":-0.011,"y":0.413,"z":-0.8},{"x":0.03,"y":0.413,"z":-0.9},{"x":0.071,"y":0.413,"z":-0.9},{"x":0.111,"y":0.413,"z":-1.0},{"x":0.152,"y":0.413,"z":-1.1},{"x":0.192,"y":0.413,"z":-1.2},{"x":0.233,"y":0.413,"z":-1.3},{"x":0.274,"y":0.413,"z":-1.4},{"x":0.314,"y":0.413,"z":-1.5},{"x":0.355,"y":0.413,"z":-1.6},{"x":0.396,"y":0.413,"z":-1.6},{"x":0.436,"y":0.413,"z":-1.7},{"x":0.477,"y":0.413,"z":-1.8},{"x":0.517,"y":0.413,"z":-1.9},{"x":0.558,"y":0.413,"z":-2.0},{"x":0.599,"y":0.413,"z":-2.1},{"x":0.639,"y":0.413,"z":-2.2},{"x":0.68,"y":0.413,"z":-2.2},{"x":0.721,"y":0.413,"z":-2.3},{"x":0.761,"y":0.413,"z":-2.4},{"x":0.802,"y":0.413,"z":-2.4},{"x":0.842,"y":0.413,"z":-2.5},{"x":0.883,"y":0.413,"z":-2.5},
{"x":-0.986,"y":0.356,"z":1.3},{"x":-0.945,"y":0.356,"z":1.2},{"x":-0.904,"y":0.356,"z":1.2},{"x":-0.864,"y":0.356,"z":1.1},{"x":-0.823,"y":0.356,"z":1.0},{"x":-0.782,"y":0.356,"z":1.0},{"x":-0.742,"y":0.356,"z":0.9},{"x":-0.701,"y":0.356,"z":0.8},{"x":-0.661,"y":0.356,"z":0.7},{"x":-0.62,"y":0.356,"z":0.6},{"x":-0.579,"y":0.356,"z":0.5},{"x":-0.539,"y":0.356,"z":0.4},{"x":-0.498,"y":0.356,"z":0.4},{"x":-0.457,"y":0.356,"z":0.3},{"x":-0.417,"y":0.356,"z":0.2},{"x":-0.376,"y":0.356,"z":0.1},{"x":-0.336,"y":0.356,"z":0.0},{"x":-0.295,"y":0.356,"z":0.0},{"x":-0.254,"y":0.356,"z":-0.1},{"x":-0.214,"y":0.356,"z":-0.2},{"x":-0.173,"y":0.356,"z":-0.3},{"x":-0.132,"y":0.356,"z":-0.4},{"x":-0.092,"y":0.356,"z":-0.5},{"x":-0.051,"y":0.356,"z":-0.6},{"x":-0.011,"y":0.356,"z":-0.7},{"x":0.03,"y":0.356,"z":-0.8},{"x":0.071,"y":0.356,"z":-0.9},{"x":0.111,"y":0.356,"z":-1.0},{"x":0.152,"y":0.356,"z":-1.0},{"x":0.192,"y":0.356,"z":-1.1},{"x":0.233,"y":0.356,"z":-1.2},{"x":0.274,"y":0.356,"z":-1.3},{"x":0.314,"y":0.356,"z":-1.4},{"x":0.355,"y":0.356,"z":-1.5},{"x":0.396,"y":0.356,"z":-1.6},{"x":0.436,"y":0.356,"z":-1.7},{"x":0.477,"y":0.356,"z":-1.8},{"x":0.517,"y":0.356,"z":-1.9},{"x":0.558,"y":0.356,"z":-1.9},{"x":0.599,"y":0.356,"z":-2.0},{"x":0.639,"y":0.356,"z":-2.1},{"x":0.68,"y":0.356,"z":-2.2},{"x":0.721,"y":0.356,"z":-2.2},{"x":0.761,"y":0.356,"z":-2.3},{"x":0.802,"y":0.356,"z":-2.4},{"x":0.842,"y":0.356,"z":-2.4},{"x":0.883,"y":0.356,"z":-2.5},{"x":0.924,"y":0.356,"z":-2.5},
{"x":-0.986,"y":0.299,"z":1.3},{"x":-0.945,"y":0.299,"z":1.3},{"x":-0.904,"y":0.299,"z":1.2},{"x":-0.864,"y":0.299,"z":1.2},{"x":-0.823,"y":0.299,"z":1.1},{"x":-0.782,"y":0.299,"z":1.0},{"x":-0.742,"y":0.299,"z":1.0},{"x":-0.701,"y":0.299,"z":0.9},{"x":-0.661,"y":0.299,"z":0.8},{"x":-0.62,"y":0.299,"z":0.7},{"x":-0.579,"y":0.299,"z":0.6},{"x":-0.539,"y":0.299,"z":0.5},{"x":-0.498,"y":0.299,"z":0.4},{"x":-0.457,"y":0.299,"z":0.4},{"x":-0.417,"y":0.299,"z":0.3},{"x":-0.376,"y":0.299,"z":0.2},{"x":-0.336,"y":0.299,"z":0.1},{"x":-0.295,"y":0.299,"z":0.0},{"x":-0.254,"y":0.299,"z":0.0},{"x":-0.214,"y":0.299,"z":-0.1},{"x":-0.173,"y":0.299,"z":-0.2},{"x":-0.132,"y":0.299,"z":-0.3},{"x":-0.092,"y":0.299,"z":-0.4},{"x":-0.051,"y":0.299,"z":-0.5},{"x":-0.011,"y":0.299,"z":-0.6},{"x":0.03,"y":0.299,"z":-0.7},{"x":0.071,"y":0.299,"z":-0.8},{"x":0.111,"y":0.299,"z":-0.9},{"x":0.152,"y":0.299,"z":-1.0},{"x":0.192,"y":0.299,"z":-1.0},{"x":0.233,"y":0.299,"z":-1.1},{"x":0.274,"y":0.299,"z":-1.2},{"x":0.314,"y":0.299,"z":-1.3},{"x":0.355,"y":0.299,"z":-1.4},{"x":0.396,"y":0.299,"z":-1.5},{"x":0.436,"y":0.299,"z":-1.6},{"x":0.477,"y":0.299,"z":-1.6},{"x":0.517,"y":0.299,"z":-1.7},{"x":0.558,"y":0.299,"z":-1.8},{"x":0.599,"y":0.299,"z":-1.9},{"x":0.639,"y":0.299,"z":-2.0},{"x":0.68,"y":0.299,"z":-2.1},{"x":0.721,"y":0.299,"z":-2.2},{"x":0.761,"y":0.299,"z":-2.2},{"x":0.802,"y":0.299,"z":-2.3},{"x":0.842,"y":0.299,"z":-2.4},{"x":0.883,"y":0.299,"z":-2.4},{"x":0.924,"y":0.299,"z":-2.5},
{"x":-0.986,"y":0.242,"z":1.4},{"x":-0.945,"y":0.242,"z":1.4},{"x":-0.904,"y":0.242,"z":1.3},{"x":-0.864,"y":0.242,"z":1.2},{"x":-0.823,"y":0.242,"z":1.2},{"x":-0.782,"y":0.242,"z":1.1},{"x":-0.742,"y":0.242,"z":1.1},{"x":-0.701,"y":0.242,"z":1.0},{"x":-0.661,"y":0.242,"z":0.9},{"x":-0.62,"y":0.242,"z":0.9},{"x":-0.579,"y":0.242,"z":0.8},{"x":-0.539,"y":0.242,"z":0.7},{"x":-0.498,"y":0.242,"z":0.6},{"x":-0.457,"y":0.242,"z":0.5},{"x":-0.417,"y":0.242,"z":0.4},{"x":-0.376,"y":0.242,"z":0.4},{"x":-0.336,"y":0.242,"z":0.3},{"x":-0.295,"y":0.242,"z":0.2},{"x":-0.254,"y":0.242,"z":0.1},{"x":-0.214,"y":0.242,"z":0.0},{"x":-0.173,"y":0.242,"z":-0.1},{"x":-0.132,"y":0.242,"z":-0.2},{"x":-0.092,"y":0.242,"z":-0.3},{"x":-0.051,"y":0.242,"z":-0.4},{"x":-0.011,"y":0.242,"z":-0.5},{"x":0.03,"y":0.242,"z":-0.6},{"x":0.071,"y":0.242,"z":-0.7},{"x":0.111,"y":0.242,"z":-0.7},{"x":0.152,"y":0.242,"z":-0.8},{"x":0.192,"y":0.242,"z":-0.9},{"x":0.233,"y":0.242,"z":-1.0},{"x":0.274,"y":0.242,"z":-1.1},{"x":0.314,"y":0.242,"z":-1.2},{"x":0.355,"y":0.242,"z":-1.3},{"x":0.396,"y":0.242,"z":-1.3},{"x":0.436,"y":0.242,"z":-1.4},{"x":0.477,"y":0.242,"z":-1.5},{"x":0.517,"y":0.242,"z":-1.6},{"x":0.558,"y":0.242,"z":-1.7},{"x":0.599,"y":0.242,"z":-1.8},{"x":0.639,"y":0.242,"z":-1.9},{"x":0.68,"y":0.242,"z":-1.9},{"x":0.721,"y":0.242,"z":-2.0},{"x":0.761,"y":0.242,"z":-2.1},{"x":0.802,"y":0.242,"z":-2.2},{"x":0.842,"y":0.242,"z":-2.2},{"x":0.883,"y":0.242,"z":-2.3},{"x":0.924,"y":0.242,"z":-2.4},{"x":0.964,"y":0.242,"z":-2.4},
{"x":-0.986,"y":0.185,"z":1.5},{"x":-0.945,"y":0.185,"z":1.4},{"x":-0.904,"y":0.185,"z":1.4},{"x":-0.864,"y":0.185,"z":1.3},{"x":-0.823,"y":0.185,"z":1.3},{"x":-0.782,"y":0.185,"z":1.2},{"x":-0.742,"y":0.185,"z":1.2},{"x":-0.701,"y":0.185,"z":1.1},{"x":-0.661,"y":0.185,"z":1.0},{"x":-0.62,"y":0.185,"z":1.0},{"x":-0.579,"y":0.185,"z":0.9},{"x":-0.539,"y":0.185,"z":0.8},{"x":-0.498,"y":0.185,"z":0.7},{"x":-0.457,"y":0.185,"z":0.6},{"x":-0.417,"y":0.185,"z":0.5},{"x":-0.376,"y":0.185,"z":0.4},{"x":-0.336,"y":0.185,"z":0.4},{"x":-0.295,"y":0.185,"z":0.3},{"x":-0.254,"y":0.185,"z":0.2},{"x":-0.214,"y":0.185,"z":0.1},{"x":-0.173,"y":0.185,"z":0.0},{"x":-0.132,"y":0.185,"z":-0.1},{"x":-0.092,"y":0.185,"z":-0.2},{"x":-0.051,"y":0.185,"z":-0.3},{"x":-0.011,"y":0.185,"z":-0.4},{"x":0.03,"y":0.185,"z":-0.5},{"x":0.071,"y":0.185,"z":-0.5},{"x":0.111,"y":0.185,"z":-0.7},{"x":0.152,"y":0.185,"z":-0.8},{"x":0.192,"y":0.185,"z":-0.8},{"x":0.233,"y":0.185,"z":-0.9},{"x":0.274,"y":0.185,"z":-1.0},{"x":0.314,"y":0.185,"z":-1.1},{"x":0.355,"y":0.185,"z":-1.2},{"x":0.396,"y":0.185,"z":-1.3},{"x":0.436,"y":0.185,"z":-1.4},{"x":0.477,"y":0.185,"z":-1.5},{"x":0.517,"y":0.185,"z":-1.5},{"x":0.558,"y":0.185,"z":-1.6},{"x":0.599,"y":0.185,"z":-1.7},{"x":0.639,"y":0.185,"z":-1.8},{"x":0.68,"y":0.185,"z":-1.9},{"x":0.721,"y":0.185,"z":-2.0},{"x":0.761,"y":0.185,"z":-2.0},{"x":0.802,"y":0.185,"z":-2.1},{"x":0.842,"y":0.185,"z":-2.2},{"x":0.883,"y":0.185,"z":-2.3},{"x":0.924,"y":0.185,"z":-2.3},{"x":0.964,"y":0.185,"z":-2.4},
{"x":-0.986,"y":0.128,"z":1.6},{"x":-0.945,"y":0.128,"z":1.5},{"x":-0.904,"y":0.128,"z":1.4},{"x":-0.864,"y":0.128,"z":1.4},{"x":-0.823,"y":0.128,"z":1.3},{"x":-0.782,"y":0.128,"z":1.3},{"x":-0.742,"y":0.128,"z":1.2},{"x":-0.701,"y":0.128,"z":1.2},{"x":-0.661,"y":0.128,"z":1.1},{"x":-0.62,"y":0.128,"z":1.0},{"x":-0.579,"y":0.128,"z":1.0},{"x":-0.539,"y":0.128,"z":0.9},{"x":-0.498,"y":0.128,"z":0.8},{"x":-0.457,"y":0.128,"z":0.7},{"x":-0.417,"y":0.128,"z":0.6},{"x":-0.376,"y":0.128,"z":0.5},{"x":-0.336,"y":0.128,"z":0.4},{"x":-0.295,"y":0.128,"z":0.4},{"x":-0.254,"y":0.128,"z":0.3},{"x":-0.214,"y":0.128,"z":0.2},{"x":-0.173,"y":0.128,"z":0.1},{"x":-0.132,"y":0.128,"z":0.0},{"x":-0.092,"y":0.128,"z":-0.1},{"x":-0.051,"y":0.128,"z":-0.2},{"x":-0.011,"y":0.128,"z":-0.3},{"x":0.03,"y":0.128,"z":-0.4},{"x":0.071,"y":0.128,"z":-0.4},{"x":0.111,"y":0.128,"z":-0.5},{"x":0.152,"y":0.128,"z":-0.7},{"x":0.192,"y":0.128,"z":-0.8},{"x":0.233,"y":0.128,"z":-0.8},{"x":0.274,"y":0.128,"z":-0.9},{"x":0.314,"y":0.128,"z":-1.0},{"x":0.355,"y":0.128,"z":-1.1},{"x":0.396,"y":0.128,"z":-1.2},{"x":0.436,"y":0.128,"z":-1.3},{"x":0.477,"y":0.128,"z":-1.4},{"x":0.517,"y":0.128,"z":-1.5},{"x":0.558,"y":0.128,"z":-1.6},{"x":0.599,"y":0.128,"z":-1.7},{"x":0.639,"y":0.128,"z":-1.7},{"x":0.68,"y":0.128,"z":-1.8},{"x":0.721,"y":0.128,"z":-1.9},{"x":0.761,"y":0.128,"z":-2.0},{"x":0.802,"y":0.128,"z":-2.1},{"x":0.842,"y":0.128,"z":-2.1},{"x":0.883,"y":0.128,"z":-2.2},{"x":0.924,"y":0.128,"z":-2.3},{"x":0.964,"y":0.128,"z":-2.3},{"x":1.005,"y":0.128,"z":-2.4},
{"x":-0.986,"y":0.071,"z":1.8},{"x":-0.945,"y":0.071,"z":1.7},{"x":-0.904,"y":0.071,"z":1.7},{"x":-0.864,"y":0.071,"z":1.6},{"x":-0.823,"y":0.071,"z":1.5},{"x":-0.782,"y":0.071,"z":1.5},{"x":-0.742,"y":0.071,"z":1.4},{"x":-0.701,"y":0.071,"z":1.3},{"x":-0.661,"y":0.071,"z":1.3},{"x":-0.62,"y":0.071,"z":1.2},{"x":-0.579,"y":0.071,"z":1.1},{"x":-0.539,"y":0.071,"z":1.1},{"x":-0.498,"y":0.071,"z":1.0},{"x":-0.457,"y":0.071,"z":0.9},{"x":-0.417,"y":0.071,"z":0.7},{"x":-0.376,"y":0.071,"z":0.6},{"x":-0.336,"y":0.071,"z":0.6},{"x":-0.295,"y":0.071,"z":0.5},{"x":-0.254,"y":0.071,"z":0.4},{"x":-0.214,"y":0.071,"z":0.3},{"x":-0.173,"y":0.071,"z":0.2},{"x":-0.132,"y":0.071,"z":0.2},{"x":-0.092,"y":0.071,"z":0.1},{"x":-0.051,"y":0.071,"z":0.0},{"x":-0.011,"y":0.071,"z":-0.1},{"x":0.03,"y":0.071,"z":-0.2},{"x":0.071,"y":0.071,"z":-0.3},{"x":0.111,"y":0.071,"z":-0.3},{"x":0.152,"y":0.071,"z":-0.4},{"x":0.192,"y":0.071,"z":-0.6},{"x":0.233,"y":0.071,"z":-0.7},{"x":0.274,"y":0.071,"z":-0.8},{"x":0.314,"y":0.071,"z":-0.8},{"x":0.355,"y":0.071,"z":-0.9},{"x":0.396,"y":0.071,"z":-1.0},{"x":0.436,"y":0.071,"z":-1.1},{"x":0.477,"y":0.071,"z":-1.2},{"x":0.517,"y":0.071,"z":-1.3},{"x":0.558,"y":0.071,"z":-1.4},{"x":0.599,"y":0.071,"z":-1.5},{"x":0.639,"y":0.071,"z":-1.5},{"x":0.68,"y":0.071,"z":-1.6},{"x":0.721,"y":0.071,"z":-1.7},{"x":0.761,"y":0.071,"z":-1.8},{"x":0.802,"y":0.071,"z":-1.9},{"x":0.842,"y":0.071,"z":-2.0},{"x":0.883,"y":0.071,"z":-2.1},{"x":0.924,"y":0.071,"z":-2.1},{"x":0.964,"y":0.071,"z":-2.2},{"x":1.005,"y":0.071,"z":-2.3},
{"x":-0.945,"y":0.013,"z":1.8},{"x":-0.904,"y":0.013,"z":1.7},{"x":-0.864,"y":0.013,"z":1.7},{"x":-0.823,"y":0.013,"z":1.6},{"x":-0.782,"y":0.013,"z":1.5},{"x":-0.742,"y":0.013,"z":1.5},{"x":-0.701,"y":0.013,"z":1.4},{"x":-0.661,"y":0.013,"z":1.4},{"x":-0.62,"y":0.013,"z":1.3},{"x":-0.579,"y":0.013,"z":1.2},{"x":-0.539,"y":0.013,"z":1.2},{"x":-0.498,"y":0.013,"z":1.1},{"x":-0.457,"y":0.013,"z":1.0},{"x":-0.417,"y":0.013,"z":0.9},{"x":-0.376,"y":0.013,"z":0.7},{"x":-0.336,"y":0.013,"z":0.6},{"x":-0.295,"y":0.013,"z":0.6},{"x":-0.254,"y":0.013,"z":0.5},{"x":-0.214,"y":0.013,"z":0.4},{"x":-0.173,"y":0.013,"z":0.3},{"x":-0.132,"y":0.013,"z":0.2},{"x":-0.092,"y":0.013,"z":0.2},{"x":-0.051,"y":0.013,"z":0.1},{"x":-0.011,"y":0.013,"z":0.0},{"x":0.03,"y":0.013,"z":-0.1},{"x":0.071,"y":0.013,"z":-0.2},{"x":0.111,"y":0.013,"z":-0.2},{"x":0.152,"y":0.013,"z":-0.3},{"x":0.192,"y":0.013,"z":-0.4},{"x":0.233,"y":0.013,"z":-0.6},{"x":0.274,"y":0.013,"z":-0.7},{"x":0.314,"y":0.013,"z":-0.8},{"x":0.355,"y":0.013,"z":-0.8},{"x":0.396,"y":0.013,"z":-0.9},{"x":0.436,"y":0.013,"z":-1.0},{"x":0.477,"y":0.013,"z":-1.1},{"x":0.517,"y":0.013,"z":-1.2},{"x":0.558,"y":0.013,"z":-1.3},{"x":0.599,"y":0.013,"z":-1.4},{"x":0.639,"y":0.013,"z":-1.5},{"x":0.68,"y":0.013,"z":-1.5},{"x":0.721,"y":0.013,"z":-1.6},{"x":0.761,"y":0.013,"z":-1.7},{"x":0.802,"y":0.013,"z":-1.8},{"x":0.842,"y":0.013,"z":-1.9},{"x":0.883,"y":0.013,"z":-2.0},{"x":0.924,"y":0.013,"z":-2.1},{"x":0.964,"y":0.013,"z":-2.1},{"x":1.005,"y":0.013,"z":-2.2},
{"x":-0.945,"y":-0.044,"z":1.8},{"x":-0.904,"y":-0.044,"z":1.9},{"x":-0.864,"y":-0.044,"z":1.8},{"x":-0.823,"y":-0.044,"z":1.7},{"x":-0.782,"y":-0.044,"z":1.7},{"x":-0.742,"y":-0.044,"z":1.6},{"x":-0.701,"y":-0.044,"z":1.5},{"x":-0.661,"y":-0.044,"z":1.5},{"x":-0.62,"y":-0.044,"z":1.4},{"x":-0.579,"y":-0.044,"z":1.3},{"x":-0.539,"y":-0.044,"z":1.3},{"x":-0.498,"y":-0.044,"z":1.2},{"x":-0.457,"y":-0.044,"z":1.1},{"x":-0.417,"y":-0.044,"z":1.1},{"x":-0.376,"y":-0.044,"z":1.0},{"x":-0.336,"y":-0.044,"z":0.9},{"x":-0.295,"y":-0.044,"z":0.7},{"x":-0.254,"y":-0.044,"z":0.6},{"x":-0.214,"y":-0.044,"z":0.6},{"x":-0.173,"y":-0.044,"z":0.5},{"x":-0.132,"y":-0.044,"z":0.4},{"x":-0.092,"y":-0.044,"z":0.3},{"x":-0.051,"y":-0.044,"z":0.2},{"x":-0.011,"y":-0.044,"z":0.2},{"x":0.03,"y":-0.044,"z":0.1},{"x":0.071,"y":-0.044,"z":0.0},{"x":0.111,"y":-0.044,"z":-0.1},{"x":0.152,"y":-0.044,"z":-0.2},{"x":0.192,"y":-0.044,"z":-0.2},{"x":0.233,"y":-0.044,"z":-0.3},{"x":0.274,"y":-0.044,"z":-0.4},{"x":0.314,"y":-0.044,"z":-0.6},{"x":0.355,"y":-0.044,"z":-0.7},{"x":0.396,"y":-0.044,"z":-0.8},{"x":0.436,"y":-0.044,"z":-0.8},{"x":0.477,"y":-0.044,"z":-0.9},{"x":0.517,"y":-0.044,"z":-1.0},{"x":0.558,"y":-0.044,"z":-1.1},{"x":0.599,"y":-0.044,"z":-1.2},{"x":0.639,"y":-0.044,"z":-1.3},{"x":0.68,"y":-0.044,"z":-1.4},{"x":0.721,"y":-0.044,"z":-1.5},{"x":0.761,"y":-0.044,"z":-1.5},{"x":0.802,"y":-0.044,"z":-1.6},{"x":0.842,"y":-0.044,"z":-1.7},{"x":0.883,"y":-0.044,"z":-1.8},{"x":0.924,"y":-0.044,"z":-1.9},{"x":0.964,"y":-0.044,"z":-2.0},{"x":1.005,"y":-0.044,"z":-2.1},{"x":1.046,"y":-0.044,"z":-2.2},
{"x":-0.945,"y":-0.101,"z":2.0},{"x":-0.904,"y":-0.101,"z":1.9},{"x":-0.864,"y":-0.101,"z":1.9},{"x":-0.823,"y":-0.101,"z":1.8},{"x":-0.782,"y":-0.101,"z":1.8},{"x":-0.742,"y":-0.101,"z":1.7},{"x":-0.701,"y":-0.101,"z":1.6},{"x":-0.661,"y":-0.101,"z":1.6},{"x":-0.62,"y":-0.101,"z":1.5},{"x":-0.579,"y":-0.101,"z":1.4},{"x":-0.539,"y":-0.101,"z":1.4},{"x":-0.498,"y":-0.101,"z":1.3},{"x":-0.457,"y":-0.101,"z":1.2},{"x":-0.417,"y":-0.101,"z":1.2},{"x":-0.376,"y":-0.101,"z":1.1},{"x":-0.336,"y":-0.101,"z":1.0},{"x":-0.295,"y":-0.101,"z":1.0},{"x":-0.254,"y":-0.101,"z":0.9},{"x":-0.214,"y":-0.101,"z":0.6},{"x":-0.173,"y":-0.101,"z":0.6},{"x":-0.132,"y":-0.101,"z":0.5},{"x":-0.092,"y":-0.101,"z":0.4},{"x":-0.051,"y":-0.101,"z":0.3},{"x":-0.011,"y":-0.101,"z":0.2},{"x":0.03,"y":-0.101,"z":0.2},{"x":0.071,"y":-0.101,"z":0.1},{"x":0.111,"y":-0.101,"z":0.0},{"x":0.152,"y":-0.101,"z":-0.1},{"x":0.192,"y":-0.101,"z":-0.2},{"x":0.233,"y":-0.101,"z":-0.3},{"x":0.274,"y":-0.101,"z":-0.3},{"x":0.314,"y":-0.101,"z":-0.4},{"x":0.355,"y":-0.101,"z":-0.5},{"x":0.396,"y":-0.101,"z":-0.7},{"x":0.436,"y":-0.101,"z":-0.8},{"x":0.477,"y":-0.101,"z":-0.8},{"x":0.517,"y":-0.101,"z":-0.9},{"x":0.558,"y":-0.101,"z":-1.0},{"x":0.599,"y":-0.101,"z":-1.1},{"x":0.639,"y":-0.101,"z":-1.2},{"x":0.68,"y":-0.101,"z":-1.3},{"x":0.721,"y":-0.101,"z":-1.4},{"x":0.761,"y":-0.101,"z":-1.5},{"x":0.802,"y":-0.101,"z":-1.5},{"x":0.842,"y":-0.101,"z":-1.6},{"x":0.883,"y":-0.101,"z":-1.7},{"x":0.924,"y":-0.101,"z":-1.9},{"x":0.964,"y":-0.101,"z":-1.9},{"x":1.005,"y":-0.101,"z":-2.0},{"x":1.046,"y":-0.101,"z":-2.1},
{"x":-0.904,"y":-0.158,"z":2.1},{"x":-0.864,"y":-0.158,"z":2.0},{"x":-0.823,"y":-0.158,"z":2.0},{"x":-0.782,"y":-0.158,"z":1.9},{"x":-0.742,"y":-0.158,"z":1.8},{"x":-0.701,"y":-0.158,"z":1.8},{"x":-0.661,"y":-0.158,"z":1.7},{"x":-0.62,"y":-0.158,"z":1.6},{"x":-0.579,"y":-0.158,"z":1.6},{"x":-0.539,"y":-0.158,"z":1.5},{"x":-0.498,"y":-0.158,"z":1.4},{"x":-0.457,"y":-0.158,"z":1.4},{"x":-0.417,"y":-0.158,"z":1.3},{"x":-0.376,"y":-0.158,"z":1.2},{"x":-0.336,"y":-0.158,"z":1.2},{"x":-0.295,"y":-0.158,"z":1.1},{"x":-0.254,"y":-0.158,"z":1.0},{"x":-0.214,"y":-0.158,"z":0.9},{"x":-0.173,"y":-0.158,"z":0.6},{"x":-0.132,"y":-0.158,"z":0.6},{"x":-0.092,"y":-0.158,"z":0.5},{"x":-0.051,"y":-0.158,"z":0.4},{"x":-0.011,"y":-0.158,"z":0.3},{"x":0.03,"y":-0.158,"z":0.2},{"x":0.071,"y":-0.158,"z":0.2},{"x":0.111,"y":-0.158,"z":0.1},{"x":0.152,"y":-0.158,"z":0.0},{"x":0.192,"y":-0.158,"z":-0.1},{"x":0.233,"y":-0.158,"z":-0.2},{"x":0.274,"y":-0.158,"z":-0.2},{"x":0.314,"y":-0.158,"z":-0.3},{"x":0.355,"y":-0.158,"z":-0.4},{"x":0.396,"y":-0.158,"z":-0.5},{"x":0.436,"y":-0.158,"z":-0.7},{"x":0.477,"y":-0.158,"z":-0.8},{"x":0.517,"y":-0.158,"z":-0.9},{"x":0.558,"y":-0.158,"z":-1.0},{"x":0.599,"y":-0.158,"z":-1.0},{"x":0.639,"y":-0.158,"z":-1.1},{"x":0.68,"y":-0.158,"z":-1.2},{"x":0.721,"y":-0.158,"z":-1.3},{"x":0.761,"y":-0.158,"z":-1.4},{"x":0.802,"y":-0.158,"z":-1.5},{"x":0.842,"y":-0.158,"z":-1.6},{"x":0.883,"y":-0.158,"z":-1.7},{"x":0.924,"y":-0.158,"z":-1.8},{"x":0.964,"y":-0.158,"z":-1.9},{"x":1.005,"y":-0.158,"z":-2.0},{"x":1.046,"y":-0.158,"z":-2.0},
{"x":-0.904,"y":-0.215,"z":2.2},{"x":-0.864,"y":-0.215,"z":2.1},{"x":-0.823,"y":-0.215,"z":2.0},{"x":-0.782,"y":-0.215,"z":2.0},{"x":-0.742,"y":-0.215,"z":1.9},{"x":-0.701,"y":-0.215,"z":1.8},{"x":-0.661,"y":-0.215,"z":1.8},{"x":-0.62,"y":-0.215,"z":1.7},{"x":-0.579,"y":-0.215,"z":1.6},{"x":-0.539,"y":-0.215,"z":1.6},{"x":-0.498,"y":-0.215,"z":1.5},{"x":-0.457,"y":-0.215,"z":1.4},{"x":-0.417,"y":-0.215,"z":1.4},{"x":-0.376,"y":-0.215,"z":1.3},{"x":-0.336,"y":-0.215,"z":1.2},{"x":-0.295,"y":-0.215,"z":1.2},{"x":-0.254,"y":-0.215,"z":1.1},{"x":-0.214,"y":-0.215,"z":1.0},{"x":-0.173,"y":-0.215,"z":0.9},{"x":-0.132,"y":-0.215,"z":0.6},{"x":-0.092,"y":-0.215,"z":0.6},{"x":-0.051,"y":-0.215,"z":0.5},{"x":-0.011,"y":-0.215,"z":0.4},{"x":0.03,"y":-0.215,"z":0.3},{"x":0.071,"y":-0.215,"z":0.2},{"x":0.111,"y":-0.215,"z":0.2},{"x":0.152,"y":-0.215,"z":0.1},{"x":0.192,"y":-0.215,"z":0.0},{"x":0.233,"y":-0.215,"z":-0.1},{"x":0.274,"y":-0.215,"z":-0.2},{"x":0.314,"y":-0.215,"z":-0.2},{"x":0.355,"y":-0.215,"z":-0.3},{"x":0.396,"y":-0.215,"z":-0.4},{"x":0.436,"y":-0.215,"z":-0.5},{"x":0.477,"y":-0.215,"z":-0.7},{"x":0.517,"y":-0.215,"z":-0.8},{"x":0.558,"y":-0.215,"z":-0.9},{"x":0.599,"y":-0.215,"z":-1.0},{"x":0.639,"y":-0.215,"z":-1.0},{"x":0.68,"y":-0.215,"z":-1.1},{"x":0.721,"y":-0.215,"z":-1.2},{"x":0.761,"y":-0.215,"z":-1.3},{"x":0.802,"y":-0.215,"z":-1.4},{"x":0.842,"y":-0.215,"z":-1.5},{"x":0.883,"y":-0.215,"z":-1.5},{"x":0.924,"y":-0.215,"z":-1.6},{"x":0.964,"y":-0.215,"z":-1.7},{"x":1.005,"y":-0.215,"z":-1.8},{"x":1.046,"y":-0.215,"z":-2.0},{"x":1.086,"y":-0.215,"z":-2.0},
{"x":-0.904,"y":-0.272,"z":2.2},{"x":-0.864,"y":-0.272,"z":2.1},{"x":-0.823,"y":-0.272,"z":2.1},{"x":-0.782,"y":-0.272,"z":2.0},{"x":-0.742,"y":-0.272,"z":2.0},{"x":-0.701,"y":-0.272,"z":1.9},{"x":-0.661,"y":-0.272,"z":1.8},{"x":-0.62,"y":-0.272,"z":1.8},{"x":-0.579,"y":-0.272,"z":1.7},{"x":-0.539,"y":-0.272,"z":1.6},{"x":-0.498,"y":-0.272,"z":1.6},{"x":-0.457,"y":-0.272,"z":1.5},{"x":-0.417,"y":-0.272,"z":1.4},{"x":-0.376,"y":-0.272,"z":1.4},{"x":-0.336,"y":-0.272,"z":1.3},{"x":-0.295,"y":-0.272,"z":1.2},{"x":-0.254,"y":-0.272,"z":1.2},{"x":-0.214,"y":-0.272,"z":1.1},{"x":-0.173,"y":-0.272,"z":1.0},{"x":-0.132,"y":-0.272,"z":0.9},{"x":-0.092,"y":-0.272,"z":0.7},{"x":-0.051,"y":-0.272,"z":0.6},{"x":-0.011,"y":-0.272,"z":0.5},{"x":0.03,"y":-0.272,"z":0.4},{"x":0.071,"y":-0.272,"z":0.3},{"x":0.111,"y":-0.272,"z":0.3},{"x":0.152,"y":-0.272,"z":0.2},{"x":0.192,"y":-0.272,"z":0.1},{"x":0.233,"y":-0.272,"z":0.0},{"x":0.274,"y":-0.272,"z":-0.1},{"x":0.314,"y":-0.272,"z":-0.1},{"x":0.355,"y":-0.272,"z":-0.2},{"x":0.396,"y":-0.272,"z":-0.3},{"x":0.436,"y":-0.272,"z":-0.4},{"x":0.477,"y":-0.272,"z":-0.5},{"x":0.517,"y":-0.272,"z":-0.7},{"x":0.558,"y":-0.272,"z":-0.8},{"x":0.599,"y":-0.272,"z":-0.9},{"x":0.639,"y":-0.272,"z":-1.0},{"x":0.68,"y":-0.272,"z":-1.0},{"x":0.721,"y":-0.272,"z":-1.1},{"x":0.761,"y":-0.272,"z":-1.2},{"x":0.802,"y":-0.272,"z":-1.3},{"x":0.842,"y":-0.272,"z":-1.4},{"x":0.883,"y":-0.272,"z":-1.5},{"x":0.924,"y":-0.272,"z":-1.5},{"x":0.964,"y":-0.272,"z":-1.6},{"x":1.005,"y":-0.272,"z":-1.7},{"x":1.046,"y":-0.272,"z":-1.8},{"x":1.086,"y":-0.272,"z":-1.9},
{"x":-0.864,"y":-0.329,"z":2.3},{"x":-0.823,"y":-0.329,"z":2.2},{"x":-0.782,"y":-0.329,"z":2.1},{"x":-0.742,"y":-0.329,"z":2.1},{"x":-0.701,"y":-0.329,"z":2.0},{"x":-0.661,"y":-0.329,"z":1.9},{"x":-0.62,"y":-0.329,"z":1.9},{"x":-0.579,"y":-0.329,"z":1.8},{"x":-0.539,"y":-0.329,"z":1.8},{"x":-0.498,"y":-0.329,"z":1.7},{"x":-0.457,"y":-0.329,"z":1.6},{"x":-0.417,"y":-0.329,"z":1.6},{"x":-0.376,"y":-0.329,"z":1.5},{"x":-0.336,"y":-0.329,"z":1.4},{"x":-0.295,"y":-0.329,"z":1.4},{"x":-0.254,"y":-0.329,"z":1.3},{"x":-0.214,"y":-0.329,"z":1.2},{"x":-0.173,"y":-0.329,"z":1.2},{"x":-0.132,"y":-0.329,"z":1.1},{"x":-0.092,"y":-0.329,"z":1.0},{"x":-0.051,"y":-0.329,"z":0.9},{"x":-0.011,"y":-0.329,"z":0.7},{"x":0.03,"y":-0.329,"z":0.6},{"x":0.071,"y":-0.329,"z":0.6},{"x":0.111,"y":-0.329,"z":0.5},{"x":0.152,"y":-0.329,"z":0.4},{"x":0.192,"y":-0.329,"z":0.3},{"x":0.233,"y":-0.329,"z":0.2},{"x":0.274,"y":-0.329,"z":0.2},{"x":0.314,"y":-0.329,"z":0.1},{"x":0.355,"y":-0.329,"z":0.0},{"x":0.396,"y":-0.329,"z":-0.1},{"x":0.436,"y":-0.329,"z":-0.2},{"x":0.477,"y":-0.329,"z":-0.2},{"x":0.517,"y":-0.329,"z":-0.3},{"x":0.558,"y":-0.329,"z":-0.4},{"x":0.599,"y":-0.329,"z":-0.5},{"x":0.639,"y":-0.329,"z":-0.7},{"x":0.68,"y":-0.329,"z":-0.8},{"x":0.721,"y":-0.329,"z":-0.9},{"x":0.761,"y":-0.329,"z":-1.0},{"x":0.802,"y":-0.329,"z":-1.0},{"x":0.842,"y":-0.329,"z":-1.1},{"x":0.883,"y":-0.329,"z":-1.2},{"x":0.924,"y":-0.329,"z":-1.3},{"x":0.964,"y":-0.329,"z":-1.4},{"x":1.005,"y":-0.329,"z":-1.5},{"x":1.046,"y":-0.329,"z":-1.6},{"x":1.086,"y":-0.329,"z":-1.7},
{"x":-0.864,"y":-0.386,"z":2.3},{"x":-0.823,"y":-0.386,"z":2.2},{"x":-0.782,"y":-0.386,"z":2.2},{"x":-0.742,"y":-0.386,"z":2.1},{"x":-0.701,"y":-0.386,"z":2.1},{"x":-0.661,"y":-0.386,"z":2.0},{"x":-0.62,"y":-0.386,"z":1.9},{"x":-0.579,"y":-0.386,"z":1.9},{"x":-0.539,"y":-0.386,"z":1.8},{"x":-0.498,"y":-0.386,"z":1.8},{"x":-0.457,"y":-0.386,"z":1.7},{"x":-0.417,"y":-0.386,"z":1.6},{"x":-0.376,"y":-0.386,"z":1.6},{"x":-0.336,"y":-0.386,"z":1.5},{"x":-0.295,"y":-0.386,"z":1.4},{"x":-0.254,"y":-0.386,"z":1.4},{"x":-0.214,"y":-0.386,"z":1.3},{"x":-0.173,"y":-0.386,"z":1.2},{"x":-0.132,"y":-0.386,"z":1.2},{"x":-0.092,"y":-0.386,"z":1.1},{"x":-0.051,"y":-0.386,"z":1.0},{"x":-0.011,"y":-0.386,"z":0.9},{"x":0.03,"y":-0.386,"z":0.7},{"x":0.071,"y":-0.386,"z":0.6},{"x":0.111,"y":-0.386,"z":0.6},{"x":0.152,"y":-0.386,"z":0.5},{"x":0.192,"y":-0.386,"z":0.4},{"x":0.233,"y":-0.386,"z":0.3},{"x":0.274,"y":-0.386,"z":0.2},{"x":0.314,"y":-0.386,"z":0.2},{"x":0.355,"y":-0.386,"z":0.1},{"x":0.396,"y":-0.386,"z":0.0},{"x":0.436,"y":-0.386,"z":-0.1},{"x":0.477,"y":-0.386,"z":-0.2},{"x":0.517,"y":-0.386,"z":-0.2},{"x":0.558,"y":-0.386,"z":-0.3},{"x":0.599,"y":-0.386,"z":-0.4},{"x":0.639,"y":-0.386,"z":-0.5},{"x":0.68,"y":-0.386,"z":-0.7},{"x":0.721,"y":-0.386,"z":-0.8},{"x":0.761,"y":-0.386,"z":-0.9},{"x":0.802,"y":-0.386,"z":-1.0},{"x":0.842,"y":-0.386,"z":-1.0},{"x":0.883,"y":-0.386,"z":-1.1},{"x":0.924,"y":-0.386,"z":-1.2},{"x":0.964,"y":-0.386,"z":-1.3},{"x":1.005,"y":-0.386,"z":-1.4},{"x":1.046,"y":-0.386,"z":-1.5},{"x":1.086,"y":-0.386,"z":-1.6},
{"x":-0.823,"y":-0.443,"z":2.4},{"x":-0.782,"y":-0.443,"z":2.3},{"x":-0.742,"y":-0.443,"z":2.3},{"x":-0.701,"y":-0.443,"z":2.2},{"x":-0.661,"y":-0.443,"z":2.2},{"x":-0.62,"y":-0.443,"z":2.1},{"x":-0.579,"y":-0.443,"z":2.0},{"x":-0.539,"y":-0.443,"z":2.0},{"x":-0.498,"y":-0.443,"z":1.9},{"x":-0.457,"y":-0.443,"z":1.8},{"x":-0.417,"y":-0.443,"z":1.8},{"x":-0.376,"y":-0.443,"z":1.7},{"x":-0.336,"y":-0.443,"z":1.6},{"x":-0.295,"y":-0.443,"z":1.6},{"x":-0.254,"y":-0.443,"z":1.5},{"x":-0.214,"y":-0.443,"z":1.4},{"x":-0.173,"y":-0.443,"z":1.4},{"x":-0.132,"y":-0.443,"z":1.3},{"x":-0.092,"y":-0.443,"z":1.2},{"x":-0.051,"y":-0.443,"z":1.2},{"x":-0.011,"y":-0.443,"z":1.1},{"x":0.03,"y":-0.443,"z":0.9},{"x":0.071,"y":-0.443,"z":0.7},{"x":0.111,"y":-0.443,"z":0.7},{"x":0.152,"y":-0.443,"z":0.6},{"x":0.192,"y":-0.443,"z":0.5},{"x":0.233,"y":-0.443,"z":0.4},{"x":0.274,"y":-0.443,"z":0.3},{"x":0.314,"y":-0.443,"z":0.2},{"x":0.355,"y":-0.443,"z":0.2},{"x":0.396,"y":-0.443,"z":0.1},{"x":0.436,"y":-0.443,"z":0.0},{"x":0.477,"y":-0.443,"z":-0.1},{"x":0.517,"y":-0.443,"z":-0.2},{"x":0.558,"y":-0.443,"z":-0.2},{"x":0.599,"y":-0.443,"z":-0.3},{"x":0.639,"y":-0.443,"z":-0.4},{"x":0.68,"y":-0.443,"z":-0.5},{"x":0.721,"y":-0.443,"z":-0.7},{"x":0.761,"y":-0.443,"z":-0.8},{"x":0.802,"y":-0.443,"z":-0.9},{"x":0.842,"y":-0.443,"z":-1.0},{"x":0.883,"y":-0.443,"z":-1.0},{"x":0.924,"y":-0.443,"z":-1.1},{"x":0.964,"y":-0.443,"z":-1.2},{"x":1.005,"y":-0.443,"z":-1.3},{"x":1.046,"y":-0.443,"z":-1.4},{"x":1.086,"y":-0.443,"z":-1.5},
{"x":-0.823,"y":-0.5,"z":2.4},{"x":-0.782,"y":-0.5,"z":2.4},{"x":-0.742,"y":-0.5,"z":2.3},{"x":-0.701,"y":-0.5,"z":2.3},{"x":-0.661,"y":-0.5,"z":2.2},{"x":-0.62,"y":-0.5,"z":2.2},{"x":-0.579,"y":-0.5,"z":2.1},{"x":-0.539,"y":-0.5,"z":2.0},{"x":-0.498,"y":-0.5,"z":2.0},{"x":-0.457,"y":-0.5,"z":1.9},{"x":-0.417,"y":-0.5,"z":1.8},{"x":-0.376,"y":-0.5,"z":1.8},{"x":-0.336,"y":-0.5,"z":1.7},{"x":-0.295,"y":-0.5,"z":1.6},{"x":-0.254,"y":-0.5,"z":1.6},{"x":-0.214,"y":-0.5,"z":1.5},{"x":-0.173,"y":-0.5,"z":1.4},{"x":-0.132,"y":-0.5,"z":1.4},{"x":-0.092,"y":-0.5,"z":1.3},{"x":-0.051,"y":-0.5,"z":1.2},{"x":-0.011,"y":-0.5,"z":1.2},{"x":0.03,"y":-0.5,"z":1.1},{"x":0.071,"y":-0.5,"z":1.0},{"x":0.111,"y":-0.5,"z":0.9},{"x":0.152,"y":-0.5,"z":0.7},{"x":0.192,"y":-0.5,"z":0.6},{"x":0.233,"y":-0.5,"z":0.5},{"x":0.274,"y":-0.5,"z":0.4},{"x":0.314,"y":-0.5,"z":0.3},{"x":0.355,"y":-0.5,"z":0.2},{"x":0.396,"y":-0.5,"z":0.2},{"x":0.436,"y":-0.5,"z":0.1},{"x":0.477,"y":-0.5,"z":0.0},{"x":0.517,"y":-0.5,"z":-0.1},{"x":0.558,"y":-0.5,"z":-0.2},{"x":0.599,"y":-0.5,"z":-0.2},{"x":0.639,"y":-0.5,"z":-0.3},{"x":0.68,"y":-0.5,"z":-0.4},{"x":0.721,"y":-0.5,"z":-0.5},{"x":0.761,"y":-0.5,"z":-0.6},{"x":0.802,"y":-0.5,"z":-0.7},{"x":0.842,"y":-0.5,"z":-0.8},{"x":0.883,"y":-0.5,"z":-0.9},{"x":0.924,"y":-0.5,"z":-1.0},{"x":0.964,"y":-0.5,"z":-1.0},{"x":1.005,"y":-0.5,"z":-1.1},{"x":1.046,"y":-0.5,"z":-1.2},{"x":1.086,"y":-0.5,"z":-1.3},
{"x":-0.782,"y":-0.557,"z":2.5},{"x":-0.742,"y":-0.557,"z":2.4},{"x":-0.701,"y":-0.557,"z":2.4},{"x":-0.661,"y":-0.557,"z":2.3},{"x":-0.62,"y":-0.557,"z":2.2},{"x":-0.579,"y":-0.557,"z":2.2},{"x":-0.539,"y":-0.557,"z":2.1},{"x":-0.498,"y":-0.557,"z":2.1},{"x":-0.457,"y":-0.557,"z":2.0},{"x":-0.417,"y":-0.557,"z":1.9},{"x":-0.376,"y":-0.557,"z":1.8},{"x":-0.336,"y":-0.557,"z":1.8},{"x":-0.295,"y":-0.557,"z":1.7},{"x":-0.254,"y":-0.557,"z":1.7},{"x":-0.214,"y":-0.557,"z":1.6},{"x":-0.173,"y":-0.557,"z":1.5},{"x":-0.132,"y":-0.557,"z":1.5},{"x":-0.092,"y":-0.557,"z":1.4},{"x":-0.051,"y":-0.557,"z":1.3},{"x":-0.011,"y":-0.557,"z":1.3},{"x":0.03,"y":-0.557,"z":1.2},{"x":0.071,"y":-0.557,"z":1.1},{"x":0.111,"y":-0.557,"z":1.1},{"x":0.152,"y":-0.557,"z":1.0},{"x":0.192,"y":-0.557,"z":0.7},{"x":0.233,"y":-0.557,"z":0.6},{"x":0.274,"y":-0.557,"z":0.5},{"x":0.314,"y":-0.557,"z":0.4},{"x":0.355,"y":-0.557,"z":0.4},{"x":0.396,"y":-0.557,"z":0.3},{"x":0.436,"y":-0.557,"z":0.2},{"x":0.477,"y":-0.557,"z":0.1},{"x":0.517,"y":-0.557,"z":0.0},{"x":0.558,"y":-0.557,"z":-0.1},{"x":0.599,"y":-0.557,"z":-0.2},{"x":0.639,"y":-0.557,"z":-0.3},{"x":0.68,"y":-0.557,"z":-0.3},{"x":0.721,"y":-0.557,"z":-0.4},{"x":0.761,"y":-0.557,"z":-0.5},{"x":0.802,"y":-0.557,"z":-0.6},{"x":0.842,"y":-0.557,"z":-0.7},{"x":0.883,"y":-0.557,"z":-0.8},{"x":0.924,"y":-0.557,"z":-0.9},{"x":0.964,"y":-0.557,"z":-1.0},{"x":1.005,"y":-0.557,"z":-1.0},{"x":1.046,"y":-0.557,"z":-1.1},{"x":1.086,"y":-0.557,"z":-1.2},
{"x":-0.782,"y":-0.614,"z":2.5},{"x":-0.742,"y":-0.614,"z":2.5},{"x":-0.701,"y":-0.614,"z":2.4},{"x":-0.661,"y":-0.614,"z":2.4},{"x":-0.62,"y":-0.614,"z":2.3},{"x":-0.579,"y":-0.614,"z":2.3},{"x":-0.539,"y":-0.614,"z":2.2},{"x":-0.498,"y":-0.614,"z":2.1},{"x":-0.457,"y":-0.614,"z":2.1},{"x":-0.417,"y":-0.614,"z":2.0},{"x":-0.376,"y":-0.614,"z":2.0},{"x":-0.336,"y":-0.614,"z":1.9},{"x":-0.295,"y":-0.614,"z":1.8},{"x":-0.254,"y":-0.614,"z":1.8},{"x":-0.214,"y":-0.614,"z":1.7},{"x":-0.173,"y":-0.614,"z":1.6},{"x":-0.132,"y":-0.614,"z":1.6},{"x":-0.092,"y":-0.614,"z":1.5},{"x":-0.051,"y":-0.614,"z":1.4},{"x":-0.011,"y":-0.614,"z":1.4},{"x":0.03,"y":-0.614,"z":1.3},{"x":0.071,"y":-0.614,"z":1.2},{"x":0.111,"y":-0.614,"z":1.2},{"x":0.152,"y":-0.614,"z":1.1},{"x":0.192,"y":-0.614,"z":1.0},{"x":0.233,"y":-0.614,"z":0.7},{"x":0.274,"y":-0.614,"z":0.6},{"x":0.314,"y":-0.614,"z":0.5},{"x":0.355,"y":-0.614,"z":0.4},{"x":0.396,"y":-0.614,"z":0.4},{"x":0.436,"y":-0.614,"z":0.3},{"x":0.477,"y":-0.614,"z":0.2},{"x":0.517,"y":-0.614,"z":0.1},{"x":0.558,"y":-0.614,"z":0.0},{"x":0.599,"y":-0.614,"z":-0.1},{"x":0.639,"y":-0.614,"z":-0.2},{"x":0.68,"y":-0.614,"z":-0.2},{"x":0.721,"y":-0.614,"z":-0.3},{"x":0.761,"y":-0.614,"z":-0.4},{"x":0.802,"y":-0.614,"z":-0.5},{"x":0.842,"y":-0.614,"z":-0.6},{"x":0.883,"y":-0.614,"z":-0.7},{"x":0.924,"y":-0.614,"z":-0.8},{"x":0.964,"y":-0.614,"z":-0.9},{"x":1.005,"y":-0.614,"z":-1.0},{"x":1.046,"y":-0.614,"z":-1.0},{"x":1.086,"y":-0.614,"z":-1.1},
{"x":-0.742,"y":-0.672,"z":2.5},{"x":-0.701,"y":-0.672,"z":2.5},{"x":-0.661,"y":-0.672,"z":2.4},{"x":-0.62,"y":-0.672,"z":2.4},{"x":-0.579,"y":-0.672,"z":2.3},{"x":-0.539,"y":-0.672,"z":2.3},{"x":-0.498,"y":-0.672,"z":2.2},{"x":-0.457,"y":-0.672,"z":2.1},{"x":-0.417,"y":-0.672,"z":2.1},{"x":-0.376,"y":-0.672,"z":2.0},{"x":-0.336,"y":-0.672,"z":2.0},{"x":-0.295,"y":-0.672,"z":1.9},{"x":-0.254,"y":-0.672,"z":1.8},{"x":-0.214,"y":-0.672,"z":1.8},{"x":-0.173,"y":-0.672,"z":1.7},{"x":-0.132,"y":-0.672,"z":1.6},{"x":-0.092,"y":-0.672,"z":1.6},{"x":-0.051,"y":-0.672,"z":1.5},{"x":-0.011,"y":-0.672,"z":1.4},{"x":0.03,"y":-0.672,"z":1.4},{"x":0.071,"y":-0.672,"z":1.3},{"x":0.111,"y":-0.672,"z":1.2},{"x":0.152,"y":-0.672,"z":1.2},{"x":0.192,"y":-0.672,"z":1.1},{"x":0.233,"y":-0.672,"z":1.0},{"x":0.274,"y":-0.672,"z":0.7},{"x":0.314,"y":-0.672,"z":0.6},{"x":0.355,"y":-0.672,"z":0.5},{"x":0.396,"y":-0.672,"z":0.4},{"x":0.436,"y":-0.672,"z":0.4},{"x":0.477,"y":-0.672,"z":0.3},{"x":0.517,"y":-0.672,"z":0.2},{"x":0.558,"y":-0.672,"z":0.1},{"x":0.599,"y":-0.672,"z":0.0},{"x":0.639,"y":-0.672,"z":-0.1},{"x":0.68,"y":-0.672,"z":-0.2},{"x":0.721,"y":-0.672,"z":-0.2},{"x":0.761,"y":-0.672,"z":-0.3},{"x":0.802,"y":-0.672,"z":-0.4},{"x":0.842,"y":-0.672,"z":-0.5},{"x":0.883,"y":-0.672,"z":-0.6},{"x":0.924,"y":-0.672,"z":-0.7},{"x":0.964,"y":-0.672,"z":-0.8},{"x":1.005,"y":-0.672,"z":-0.9},{"x":1.046,"y":-0.672,"z":-1.0},{"x":1.086,"y":-0.672,"z":-1.0},
{"x":-0.701,"y":-0.729,"z":2.5},{"x":-0.661,"y":-0.729,"z":2.5},{"x":-0.62,"y":-0.729,"z":2.4},{"x":-0.579,"y":-0.729,"z":2.4},{"x":-0.539,"y":-0.729,"z":2.4},{"x":-0.498,"y":-0.729,"z":2.3},{"x":-0.457,"y":-0.729,"z":2.2},{"x":-0.417,"y":-0.729,"z":2.2},{"x":-0.376,"y":-0.729,"z":2.1},{"x":-0.336,"y":-0.729,"z":2.0},{"x":-0.295,"y":-0.729,"z":2.0},{"x":-0.254,"y":-0.729,"z":1.9},{"x":-0.214,"y":-0.729,"z":1.8},{"x":-0.173,"y":-0.729,"z":1.8},{"x":-0.132,"y":-0.729,"z":1.7},{"x":-0.092,"y":-0.729,"z":1.6},{"x":-0.051,"y":-0.729,"z":1.6},{"x":-0.011,"y":-0.729,"z":1.5},{"x":0.03,"y":-0.729,"z":1.4},{"x":0.071,"y":-0.729,"z":1.4},{"x":0.111,"y":-0.729,"z":1.3},{"x":0.152,"y":-0.729,"z":1.2},{"x":0.192,"y":-0.729,"z":1.2},{"x":0.233,"y":-0.729,"z":1.1},{"x":0.274,"y":-0.729,"z":1.0},{"x":0.314,"y":-0.729,"z":0.8},{"x":0.355,"y":-0.729,"z":0.7},{"x":0.396,"y":-0.729,"z":0.6},{"x":0.436,"y":-0.729,"z":0.5},{"x":0.477,"y":-0.729,"z":0.4},{"x":0.517,"y":-0.729,"z":0.3},{"x":0.558,"y":-0.729,"z":0.3},{"x":0.599,"y":-0.729,"z":0.2},{"x":0.639,"y":-0.729,"z":0.1},{"x":0.68,"y":-0.729,"z":0.0},{"x":0.721,"y":-0.729,"z":-0.1},{"x":0.761,"y":-0.729,"z":-0.1},{"x":0.802,"y":-0.729,"z":-0.2},{"x":0.842,"y":-0.729,"z":-0.3},{"x":0.883,"y":-0.729,"z":-0.4},{"x":0.924,"y":-0.729,"z":-0.5},{"x":0.964,"y":-0.729,"z":-0.6},{"x":1.005,"y":-0.729,"z":-0.7},{"x":1.046,"y":-0.729,"z":-0.8},{"x":1.086,"y":-0.729,"z":-0.9},
{"x":-0.701,"y":-0.786,"z":2.5},{"x":-0.661,"y":-0.786,"z":2.5},{"x":-0.62,"y":-0.786,"z":2.5},{"x":-0.579,"y":-0.786,"z":2.4},{"x":-0.539,"y":-0.786,"z":2.4},{"x":-0.498,"y":-0.786,"z":2.3},{"x":-0.457,"y":-0.786,"z":2.3},{"x":-0.417,"y":-0.786,"z":2.2},{"x":-0.376,"y":-0.786,"z":2.2},{"x":-0.336,"y":-0.786,"z":2.1},{"x":-0.295,"y":-0.786,"z":2.1},{"x":-0.254,"y":-0.786,"z":2.0},{"x":-0.214,"y":-0.786,"z":2.0},{"x":-0.173,"y":-0.786,"z":1.9},{"x":-0.132,"y":-0.786,"z":1.8},{"x":-0.092,"y":-0.786,"z":1.8},{"x":-0.051,"y":-0.786,"z":1.7},{"x":-0.011,"y":-0.786,"z":1.6},{"x":0.03,"y":-0.786,"z":1.6},{"x":0.071,"y":-0.786,"z":1.5},{"x":0.111,"y":-0.786,"z":1.4},{"x":0.152,"y":-0.786,"z":1.4},{"x":0.192,"y":-0.786,"z":1.3},{"x":0.233,"y":-0.786,"z":1.2},{"x":0.274,"y":-0.786,"z":1.2},{"x":0.314,"y":-0.786,"z":1.1},{"x":0.355,"y":-0.786,"z":0.8},{"x":0.396,"y":-0.786,"z":0.7},{"x":0.436,"y":-0.786,"z":0.6},{"x":0.477,"y":-0.786,"z":0.5},{"x":0.517,"y":-0.786,"z":0.4},{"x":0.558,"y":-0.786,"z":0.3},{"x":0.599,"y":-0.786,"z":0.3},{"x":0.639,"y":-0.786,"z":0.2},{"x":0.68,"y":-0.786,"z":0.1},{"x":0.721,"y":-0.786,"z":0.0},{"x":0.761,"y":-0.786,"z":-0.1},{"x":0.802,"y":-0.786,"z":-0.1},{"x":0.842,"y":-0.786,"z":-0.2},{"x":0.883,"y":-0.786,"z":-0.3},{"x":0.924,"y":-0.786,"z":-0.4},{"x":0.964,"y":-0.786,"z":-0.5},{"x":1.005,"y":-0.786,"z":-0.6},{"x":1.046,"y":-0.786,"z":-0.7},{"x":1.086,"y":-0.786,"z":-0.8},
{"x":-0.661,"y":-0.843,"z":2.5},{"x":-0.62,"y":-0.843,"z":2.5},{"x":-0.579,"y":-0.843,"z":2.5},{"x":-0.539,"y":-0.843,"z":2.4},{"x":-0.498,"y":-0.843,"z":2.4},{"x":-0.457,"y":-0.843,"z":2.4},{"x":-0.417,"y":-0.843,"z":2.3},{"x":-0.376,"y":-0.843,"z":2.3},{"x":-0.336,"y":-0.843,"z":2.2},{"x":-0.295,"y":-0.843,"z":2.1},{"x":-0.254,"y":-0.843,"z":2.1},{"x":-0.214,"y":-0.843,"z":2.0},{"x":-0.173,"y":-0.843,"z":2.0},{"x":-0.132,"y":-0.843,"z":1.9},{"x":-0.092,"y":-0.843,"z":1.8},{"x":-0.051,"y":-0.843,"z":1.8},{"x":-0.011,"y":-0.843,"z":1.7},{"x":0.03,"y":-0.843,"z":1.6},{"x":0.071,"y":-0.843,"z":1.6},{"x":0.111,"y":-0.843,"z":1.5},{"x":0.152,"y":-0.843,"z":1.4},{"x":0.192,"y":-0.843,"z":1.4},{"x":0.233,"y":-0.843,"z":1.3},{"x":0.274,"y":-0.843,"z":1.2},{"x":0.314,"y":-0.843,"z":1.2},{"x":0.355,"y":-0.843,"z":1.1},{"x":0.396,"y":-0.843,"z":0.8},{"x":0.436,"y":-0.843,"z":0.7},{"x":0.477,"y":-0.843,"z":0.6},{"x":0.517,"y":-0.843,"z":0.5},{"x":0.558,"y":-0.843,"z":0.4},{"x":0.599,"y":-0.843,"z":0.3},{"x":0.639,"y":-0.843,"z":0.3},{"x":0.68,"y":-0.843,"z":0.2},{"x":0.721,"y":-0.843,"z":0.1},{"x":0.761,"y":-0.843,"z":0.0},{"x":0.802,"y":-0.843,"z":-0.1},{"x":0.842,"y":-0.843,"z":-0.1},{"x":0.883,"y":-0.843,"z":-0.2},{"x":0.924,"y":-0.843,"z":-0.3},{"x":0.964,"y":-0.843,"z":-0.4},{"x":1.005,"y":-0.843,"z":-0.5},{"x":1.046,"y":-0.843,"z":-0.6},{"x":1.086,"y":-0.843,"z":-0.7},
{"x":-0.62,"y":-0.9,"z":2.5},{"x":-0.579,"y":-0.9,"z":2.5},{"x":-0.539,"y":-0.9,"z":2.5},{"x":-0.498,"y":-0.9,"z":2.5},{"x":-0.457,"y":-0.9,"z":2.4},{"x":-0.417,"y":-0.9,"z":2.4},{"x":-0.376,"y":-0.9,"z":2.3},{"x":-0.336,"y":-0.9,"z":2.3},{"x":-0.295,"y":-0.9,"z":2.2},{"x":-0.254,"y":-0.9,"z":2.2},{"x":-0.214,"y":-0.9,"z":2.1},{"x":-0.173,"y":-0.9,"z":2.0},{"x":-0.132,"y":-0.9,"z":2.0},{"x":-0.092,"y":-0.9,"z":1.9},{"x":-0.051,"y":-0.9,"z":1.8},{"x":-0.011,"y":-0.9,"z":1.8},{"x":0.03,"y":-0.9,"z":1.7},{"x":0.071,"y":-0.9,"z":1.6},{"x":0.111,"y":-0.9,"z":1.6},{"x":0.152,"y":-0.9,"z":1.5},{"x":0.192,"y":-0.9,"z":1.4},{"x":0.233,"y":-0.9,"z":1.4},{"x":0.274,"y":-0.9,"z":1.3},{"x":0.314,"y":-0.9,"z":1.2},{"x":0.355,"y":-0.9,"z":1.2},{"x":0.396,"y":-0.9,"z":1.1},{"x":0.436,"y":-0.9,"z":0.8},{"x":0.477,"y":-0.9,"z":0.7},{"x":0.517,"y":-0.9,"z":0.6},{"x":0.558,"y":-0.9,"z":0.5},{"x":0.599,"y":-0.9,"z":0.4},{"x":0.639,"y":-0.9,"z":0.3},{"x":0.68,"y":-0.9,"z":0.3},{"x":0.721,"y":-0.9,"z":0.2},{"x":0.761,"y":-0.9,"z":0.1},{"x":0.802,"y":-0.9,"z":0.1},{"x":0.842,"y":-0.9,"z":0.0},{"x":0.883,"y":-0.9,"z":-0.1},{"x":0.924,"y":-0.9,"z":-0.2},{"x":0.964,"y":-0.9,"z":-0.3},{"x":1.005,"y":-0.9,"z":-0.4},{"x":1.046,"y":-0.9,"z":-0.5},{"x":1.086,"y":-0.9,"z":-0.6},
{"x":-0.579,"y":-0.957,"z":2.5},{"x":-0.539,"y":-0.957,"z":2.5},{"x":-0.498,"y":-0.957,"z":2.5},{"x":-0.457,"y":-0.957,"z":2.5},{"x":-0.417,"y":-0.957,"z":2.4},{"x":-0.376,"y":-0.957,"z":2.4},{"x":-0.336,"y":-0.957,"z":2.4},{"x":-0.295,"y":-0.957,"z":2.3},{"x":-0.254,"y":-0.957,"z":2.2},{"x":-0.214,"y":-0.957,"z":2.2},{"x":-0.173,"y":-0.957,"z":2.1},{"x":-0.132,"y":-0.957,"z":2.0},{"x":-0.092,"y":-0.957,"z":2.0},{"x":-0.051,"y":-0.957,"z":1.9},{"x":-0.011,"y":-0.957,"z":1.8},{"x":0.03,"y":-0.957,"z":1.8},{"x":0.071,"y":-0.957,"z":1.7},{"x":0.111,"y":-0.957,"z":1.6},{"x":0.152,"y":-0.957,"z":1.6},{"x":0.192,"y":-0.957,"z":1.5},{"x":0.233,"y":-0.957,"z":1.4},{"x":0.274,"y":-0.957,"z":1.4},{"x":0.314,"y":-0.957,"z":1.3},{"x":0.355,"y":-0.957,"z":1.2},{"x":0.396,"y":-0.957,"z":1.2},{"x":0.436,"y":-0.957,"z":1.1},{"x":0.477,"y":-0.957,"z":0.8},{"x":0.517,"y":-0.957,"z":0.7},{"x":0.558,"y":-0.957,"z":0.6},{"x":0.599,"y":-0.957,"z":0.5},{"x":0.639,"y":-0.957,"z":0.4},{"x":0.68,"y":-0.957,"z":0.3},{"x":0.721,"y":-0.957,"z":0.3},{"x":0.761,"y":-0.957,"z":0.2},{"x":0.802,"y":-0.957,"z":0.1},{"x":0.842,"y":-0.957,"z":0.1},{"x":0.883,"y":-0.957,"z":0.0},{"x":0.924,"y":-0.957,"z":-0.1},{"x":0.964,"y":-0.957,"z":-0.2},{"x":1.005,"y":-0.957,"z":-0.3},{"x":1.046,"y":-0.957,"z":-0.4},{"x":1.086,"y":-0.957,"z":-0.5},
{"x":-0.539,"y":-1.014,"z":2.5},{"x":-0.498,"y":-1.014,"z":2.5},{"x":-0.457,"y":-1.014,"z":2.5},{"x":-0.417,"y":-1.014,"z":2.5},{"x":-0.376,"y":-1.014,"z":2.5},{"x":-0.336,"y":-1.014,"z":2.4},{"x":-0.295,"y":-1.014,"z":2.4},{"x":-0.254,"y":-1.014,"z":2.3},{"x":-0.214,"y":-1.014,"z":2.2},{"x":-0.173,"y":-1.014,"z":2.2},{"x":-0.132,"y":-1.014,"z":2.1},{"x":-0.092,"y":-1.014,"z":2.0},{"x":-0.051,"y":-1.014,"z":2.0},{"x":-0.011,"y":-1.014,"z":1.9},{"x":0.03,"y":-1.014,"z":1.8},{"x":0.071,"y":-1.014,"z":1.8},{"x":0.111,"y":-1.014,"z":1.7},{"x":0.152,"y":-1.014,"z":1.6},{"x":0.192,"y":-1.014,"z":1.6},{"x":0.233,"y":-1.014,"z":1.5},{"x":0.274,"y":-1.014,"z":1.4},{"x":0.314,"y":-1.014,"z":1.4},{"x":0.355,"y":-1.014,"z":1.3},{"x":0.396,"y":-1.014,"z":1.2},{"x":0.436,"y":-1.014,"z":1.2},{"x":0.477,"y":-1.014,"z":1.1},{"x":0.517,"y":-1.014,"z":0.8},{"x":0.558,"y":-1.014,"z":0.7},{"x":0.599,"y":-1.014,"z":0.6},{"x":0.639,"y":-1.014,"z":0.5},{"x":0.68,"y":-1.014,"z":0.4},{"x":0.721,"y":-1.014,"z":0.3},{"x":0.761,"y":-1.014,"z":0.3},{"x":0.802,"y":-1.014,"z":0.2},{"x":0.842,"y":-1.014,"z":0.1},{"x":0.883,"y":-1.014,"z":0.1},{"x":0.924,"y":-1.014,"z":0.0},{"x":0.964,"y":-1.014,"z":-0.1},{"x":1.005,"y":-1.014,"z":-0.2},{"x":1.046,"y":-1.014,"z":-0.4},
{"x":-0.498,"y":-1.071,"z":2.5},{"x":-0.457,"y":-1.071,"z":2.5},{"x":-0.417,"y":-1.071,"z":2.5},{"x":-0.376,"y":-1.071,"z":2.5},{"x":-0.336,"y":-1.071,"z":2.5},{"x":-0.295,"y":-1.071,"z":2.4},{"x":-0.254,"y":-1.071,"z":2.4},{"x":-0.214,"y":-1.071,"z":2.3},{"x":-0.173,"y":-1.071,"z":2.2},{"x":-0.132,"y":-1.071,"z":2.2},{"x":-0.092,"y":-1.071,"z":2.1},{"x":-0.051,"y":-1.071,"z":2.0},{"x":-0.011,"y":-1.071,"z":2.0},{"x":0.03,"y":-1.071,"z":1.9},{"x":0.071,"y":-1.071,"z":1.8},{"x":0.111,"y":-1.071,"z":1.8},{"x":0.152,"y":-1.071,"z":1.7},{"x":0.192,"y":-1.071,"z":1.6},{"x":0.233,"y":-1.071,"z":1.6},{"x":0.274,"y":-1.071,"z":1.5},{"x":0.314,"y":-1.071,"z":1.4},{"x":0.355,"y":-1.071,"z":1.4},{"x":0.396,"y":-1.071,"z":1.3},{"x":0.436,"y":-1.071,"z":1.2},{"x":0.477,"y":-1.071,"z":1.2},{"x":0.517,"y":-1.071,"z":1.1},{"x":0.558,"y":-1.071,"z":1.0},{"x":0.599,"y":-1.071,"z":0.7},{"x":0.639,"y":-1.071,"z":0.6},{"x":0.68,"y":-1.071,"z":0.5},{"x":0.721,"y":-1.071,"z":0.4},{"x":0.761,"y":-1.071,"z":0.3},{"x":0.802,"y":-1.071,"z":0.3},{"x":0.842,"y":-1.071,"z":0.2},{"x":0.883,"y":-1.071,"z":0.1},{"x":0.924,"y":-1.071,"z":0.0},{"x":0.964,"y":-1.071,"z":-0.1},{"x":1.005,"y":-1.071,"z":-0.2},{"x":1.046,"y":-1.071,"z":-0.3},
{"x":-0.457,"y":-1.128,"z":2.5},{"x":-0.417,"y":-1.128,"z":2.5},{"x":-0.376,"y":-1.128,"z":2.5},{"x":-0.336,"y":-1.128,"z":2.5},{"x":-0.295,"y":-1.128,"z":2.5},{"x":-0.254,"y":-1.128,"z":2.5},{"x":-0.214,"y":-1.128,"z":2.4},{"x":-0.173,"y":-1.128,"z":2.4},{"x":-0.132,"y":-1.128,"z":2.3},{"x":-0.092,"y":-1.128,"z":2.2},{"x":-0.051,"y":-1.128,"z":2.2},{"x":-0.011,"y":-1.128,"z":2.1},{"x":0.03,"y":-1.128,"z":2.0},{"x":0.071,"y":-1.128,"z":2.0},{"x":0.111,"y":-1.128,"z":1.9},{"x":0.152,"y":-1.128,"z":1.8},{"x":0.192,"y":-1.128,"z":1.8},{"x":0.233,"y":-1.128,"z":1.7},{"x":0.274,"y":-1.128,"z":1.6},{"x":0.314,"y":-1.128,"z":1.6},{"x":0.355,"y":-1.128,"z":1.5},{"x":0.396,"y":-1.128,"z":1.4},{"x":0.436,"y":-1.128,"z":1.4},{"x":0.477,"y":-1.128,"z":1.3},{"x":0.517,"y":-1.128,"z":1.2},{"x":0.558,"y":-1.128,"z":1.2},{"x":0.599,"y":-1.128,"z":1.1},{"x":0.639,"y":-1.128,"z":0.7},{"x":0.68,"y":-1.128,"z":0.6},{"x":0.721,"y":-1.128,"z":0.5},{"x":0.761,"y":-1.128,"z":0.4},{"x":0.802,"y":-1.128,"z":0.4},{"x":0.842,"y":-1.128,"z":0.3},{"x":0.883,"y":-1.128,"z":0.2},{"x":0.924,"y":-1.128,"z":0.1},{"x":0.964,"y":-1.128,"z":0.0},{"x":1.005,"y":-1.128,"z":-0.1},{"x":1.046,"y":-1.128,"z":-0.2},
{"x":-0.417,"y":-1.185,"z":2.5},{"x":-0.376,"y":-1.185,"z":2.5},{"x":-0.336,"y":-1.185,"z":2.5},{"x":-0.295,"y":-1.185,"z":2.5},{"x":-0.254,"y":-1.185,"z":2.5},{"x":-0.214,"y":-1.185,"z":2.5},{"x":-0.173,"y":-1.185,"z":2.4},{"x":-0.132,"y":-1.185,"z":2.4},{"x":-0.092,"y":-1.185,"z":2.3},{"x":-0.051,"y":-1.185,"z":2.2},{"x":-0.011,"y":-1.185,"z":2.2},{"x":0.03,"y":-1.185,"z":2.1},{"x":0.071,"y":-1.185,"z":2.0},{"x":0.111,"y":-1.185,"z":2.0},{"x":0.152,"y":-1.185,"z":1.9},{"x":0.192,"y":-1.185,"z":1.8},{"x":0.233,"y":-1.185,"z":1.8},{"x":0.274,"y":-1.185,"z":1.7},{"x":0.314,"y":-1.185,"z":1.6},{"x":0.355,"y":-1.185,"z":1.6},{"x":0.396,"y":-1.185,"z":1.5},{"x":0.436,"y":-1.185,"z":1.4},{"x":0.477,"y":-1.185,"z":1.4},{"x":0.517,"y":-1.185,"z":1.3},{"x":0.558,"y":-1.185,"z":1.2},{"x":0.599,"y":-1.185,"z":1.2},{"x":0.639,"y":-1.185,"z":1.1},{"x":0.68,"y":-1.185,"z":0.7},{"x":0.721,"y":-1.185,"z":0.6},{"x":0.761,"y":-1.185,"z":0.5},{"x":0.802,"y":-1.185,"z":0.4},{"x":0.842,"y":-1.185,"z":0.4},{"x":0.883,"y":-1.185,"z":0.3},{"x":0.924,"y":-1.185,"z":0.2},{"x":0.964,"y":-1.185,"z":0.1},{"x":1.005,"y":-1.185,"z":0.0},
{"x":-0.376,"y":-1.242,"z":2.5},{"x":-0.336,"y":-1.242,"z":2.5},{"x":-0.295,"y":-1.242,"z":2.5},{"x":-0.254,"y":-1.242,"z":2.5},{"x":-0.214,"y":-1.242,"z":2.5},{"x":-0.173,"y":-1.242,"z":2.5},{"x":-0.132,"y":-1.242,"z":2.4},{"x":-0.092,"y":-1.242,"z":2.4},{"x":-0.051,"y":-1.242,"z":2.3},{"x":-0.011,"y":-1.242,"z":2.3},{"x":0.03,"y":-1.242,"z":2.2},{"x":0.071,"y":-1.242,"z":2.1},{"x":0.111,"y":-1.242,"z":2.1},{"x":0.152,"y":-1.242,"z":2.0},{"x":0.192,"y":-1.242,"z":1.9},{"x":0.233,"y":-1.242,"z":1.8},{"x":0.274,"y":-1.242,"z":1.8},{"x":0.314,"y":-1.242,"z":1.7},{"x":0.355,"y":-1.242,"z":1.6},{"x":0.396,"y":-1.242,"z":1.6},{"x":0.436,"y":-1.242,"z":1.5},{"x":0.477,"y":-1.242,"z":1.4},{"x":0.517,"y":-1.242,"z":1.4},{"x":0.558,"y":-1.242,"z":1.3},{"x":0.599,"y":-1.242,"z":1.2},{"x":0.639,"y":-1.242,"z":1.2},{"x":0.68,"y":-1.242,"z":1.1},{"x":0.721,"y":-1.242,"z":1.0},{"x":0.761,"y":-1.242,"z":0.7},{"x":0.802,"y":-1.242,"z":0.6},{"x":0.842,"y":-1.242,"z":0.5},{"x":0.883,"y":-1.242,"z":0.4},{"x":0.924,"y":-1.242,"z":0.4},{"x":0.964,"y":-1.242,"z":0.3},{"x":1.005,"y":-1.242,"z":0.1},
{"x":-0.336,"y":-1.299,"z":2.5},{"x":-0.295,"y":-1.299,"z":2.5},{"x":-0.254,"y":-1.299,"z":2.5},{"x":-0.214,"y":-1.299,"z":2.5},{"x":-0.173,"y":-1.299,"z":2.5},{"x":-0.132,"y":-1.299,"z":2.5},{"x":-0.092,"y":-1.299,"z":2.4},{"x":-0.051,"y":-1.299,"z":2.4},{"x":-0.011,"y":-1.299,"z":2.3},{"x":0.03,"y":-1.299,"z":2.3},{"x":0.071,"y":-1.299,"z":2.2},{"x":0.111,"y":-1.299,"z":2.1},{"x":0.152,"y":-1.299,"z":2.1},{"x":0.192,"y":-1.299,"z":2.0},{"x":0.233,"y":-1.299,"z":1.9},{"x":0.274,"y":-1.299,"z":1.8},{"x":0.314,"y":-1.299,"z":1.8},{"x":0.355,"y":-1.299,"z":1.7},{"x":0.396,"y":-1.299,"z":1.6},{"x":0.436,"y":-1.299,"z":1.6},{"x":0.477,"y":-1.299,"z":1.5},{"x":0.517,"y":-1.299,"z":1.4},{"x":0.558,"y":-1.299,"z":1.4},{"x":0.599,"y":-1.299,"z":1.3},{"x":0.639,"y":-1.299,"z":1.2},{"x":0.68,"y":-1.299,"z":1.2},{"x":0.721,"y":-1.299,"z":1.1},{"x":0.761,"y":-1.299,"z":1.0},{"x":0.802,"y":-1.299,"z":0.7},{"x":0.842,"y":-1.299,"z":0.6},{"x":0.883,"y":-1.299,"z":0.5},{"x":0.924,"y":-1.299,"z":0.4},{"x":0.964,"y":-1.299,"z":0.4},{"x":1.005,"y":-1.299,"z":0.2},
{"x":-0.254,"y":-1.356,"z":2.5},{"x":-0.214,"y":-1.356,"z":2.5},{"x":-0.173,"y":-1.356,"z":2.5},{"x":-0.132,"y":-1.356,"z":2.5},{"x":-0.092,"y":-1.356,"z":2.5},{"x":-0.051,"y":-1.356,"z":2.4},{"x":-0.011,"y":-1.356,"z":2.4},{"x":0.03,"y":-1.356,"z":2.3},{"x":0.071,"y":-1.356,"z":2.3},{"x":0.111,"y":-1.356,"z":2.2},{"x":0.152,"y":-1.356,"z":2.1},{"x":0.192,"y":-1.356,"z":2.1},{"x":0.233,"y":-1.356,"z":2.0},{"x":0.274,"y":-1.356,"z":1.9},{"x":0.314,"y":-1.356,"z":1.8},{"x":0.355,"y":-1.356,"z":1.8},{"x":0.396,"y":-1.356,"z":1.7},{"x":0.436,"y":-1.356,"z":1.6},{"x":0.477,"y":-1.356,"z":1.6},{"x":0.517,"y":-1.356,"z":1.5},{"x":0.558,"y":-1.356,"z":1.4},{"x":0.599,"y":-1.356,"z":1.4},{"x":0.639,"y":-1.356,"z":1.3},{"x":0.68,"y":-1.356,"z":1.2},{"x":0.721,"y":-1.356,"z":1.2},{"x":0.761,"y":-1.356,"z":1.1},{"x":0.802,"y":-1.356,"z":1.0},{"x":0.842,"y":-1.356,"z":0.7},{"x":0.883,"y":-1.356,"z":0.6},{"x":0.924,"y":-1.356,"z":0.5},
{"x":-0.214,"y":-1.413,"z":2.5},{"x":-0.173,"y":-1.413,"z":2.5},{"x":-0.132,"y":-1.413,"z":2.5},{"x":-0.092,"y":-1.413,"z":2.5},{"x":-0.051,"y":-1.413,"z":2.5},{"x":-0.011,"y":-1.413,"z":2.4},{"x":0.03,"y":-1.413,"z":2.4},{"x":0.071,"y":-1.413,"z":2.3},{"x":0.111,"y":-1.413,"z":2.3},{"x":0.152,"y":-1.413,"z":2.2},{"x":0.192,"y":-1.413,"z":2.1},{"x":0.233,"y":-1.413,"z":2.1},{"x":0.274,"y":-1.413,"z":2.0},{"x":0.314,"y":-1.413,"z":1.9},{"x":0.355,"y":-1.413,"z":1.8},{"x":0.396,"y":-1.413,"z":1.8},{"x":0.436,"y":-1.413,"z":1.7},{"x":0.477,"y":-1.413,"z":1.6},{"x":0.517,"y":-1.413,"z":1.6},{"x":0.558,"y":-1.413,"z":1.5},{"x":0.599,"y":-1.413,"z":1.4},{"x":0.639,"y":-1.413,"z":1.4},{"x":0.68,"y":-1.413,"z":1.3},{"x":0.721,"y":-1.413,"z":1.2},{"x":0.761,"y":-1.413,"z":1.2},{"x":0.802,"y":-1.413,"z":1.1},{"x":0.842,"y":-1.413,"z":1.0},{"x":0.883,"y":-1.413,"z":0.7},
{"x":-0.132,"y":-1.47,"z":2.5},{"x":-0.092,"y":-1.47,"z":2.5},{"x":-0.051,"y":-1.47,"z":2.5},{"x":-0.011,"y":-1.47,"z":2.5},{"x":0.03,"y":-1.47,"z":2.4},{"x":0.071,"y":-1.47,"z":2.4},{"x":0.111,"y":-1.47,"z":2.3},{"x":0.152,"y":-1.47,"z":2.3},{"x":0.192,"y":-1.47,"z":2.2},{"x":0.233,"y":-1.47,"z":2.1},{"x":0.274,"y":-1.47,"z":2.1},{"x":0.314,"y":-1.47,"z":2.0},{"x":0.355,"y":-1.47,"z":1.9},{"x":0.396,"y":-1.47,"z":1.8},{"x":0.436,"y":-1.47,"z":1.8},{"x":0.477,"y":-1.47,"z":1.7},{"x":0.517,"y":-1.47,"z":1.6},{"x":0.558,"y":-1.47,"z":1.6},{"x":0.599,"y":-1.47,"z":1.5},{"x":0.639,"y":-1.47,"z":1.4},{"x":0.68,"y":-1.47,"z":1.4},{"x":0.721,"y":-1.47,"z":1.3},{"x":0.761,"y":-1.47,"z":1.2},{"x":0.802,"y":-1.47,"z":1.1},{"x":0.842,"y":-1.47,"z":0.8},
{"x":-0.051,"y":-1.528,"z":2.5},{"x":-0.011,"y":-1.528,"z":2.5},{"x":0.03,"y":-1.528,"z":2.5},{"x":0.071,"y":-1.528,"z":2.5},{"x":0.111,"y":-1.528,"z":2.4},{"x":0.152,"y":-1.528,"z":2.4},{"x":0.192,"y":-1.528,"z":2.3},{"x":0.233,"y":-1.528,"z":2.2},{"x":0.274,"y":-1.528,"z":2.2},{"x":0.314,"y":-1.528,"z":2.1},{"x":0.355,"y":-1.528,"z":2.0},{"x":0.396,"y":-1.528,"z":1.9},{"x":0.436,"y":-1.528,"z":1.8},{"x":0.477,"y":-1.528,"z":1.8},{"x":0.517,"y":-1.528,"z":1.7},{"x":0.558,"y":-1.528,"z":1.6},{"x":0.599,"y":-1.528,"z":1.6},{"x":0.639,"y":-1.528,"z":1.5},{"x":0.68,"y":-1.528,"z":1.4},{"x":0.721,"y":-1.528,"z":1.3},{"x":0.761,"y":-1.528,"z":1.2},{"x":0.802,"y":-1.528,"z":1.0},
{"x":0.03,"y":-1.585,"z":2.5},{"x":0.071,"y":-1.585,"z":2.5},{"x":0.111,"y":-1.585,"z":2.5},{"x":0.152,"y":-1.585,"z":2.4},{"x":0.192,"y":-1.585,"z":2.4},{"x":0.233,"y":-1.585,"z":2.3},{"x":0.274,"y":-1.585,"z":2.2},{"x":0.314,"y":-1.585,"z":2.1},{"x":0.355,"y":-1.585,"z":2.0},{"x":0.396,"y":-1.585,"z":1.9},{"x":0.436,"y":-1.585,"z":1.8},{"x":0.477,"y":-1.585,"z":1.8},{"x":0.517,"y":-1.585,"z":1.7},{"x":0.558,"y":-1.585,"z":1.6},{"x":0.599,"y":-1.585,"z":1.5},{"x":0.639,"y":-1.585,"z":1.4},{"x":0.68,"y":-1.585,"z":1.3},{"x":0.721,"y":-1.585,"z":1.2},
{"x":0.192,"y":-1.642,"z":2.4},{"x":0.233,"y":-1.642,"z":2.3},{"x":0.274,"y":-1.642,"z":2.2},{"x":0.314,"y":-1.642,"z":2.1},{"x":0.355,"y":-1.642,"z":2.0},{"x":0.396,"y":-1.642,"z":2.0},{"x":0.436,"y":-1.642,"z":1.9},{"x":0.477,"y":-1.642,"z":1.8},{"x":0.517,"y":-1.642,"z":1.7},{"x":0.558,"y":-1.642,"z":1.6},{"x":0.599,"y":-1.642,"z":1.5}
]},"layer":[{"mark":{"type":"rect","width":25.3,"height":22.04,"stroke":"#000000","strokeWidth":1.6},"encoding":{"x":{"field":"x","type":"quantitative","scale":{"domain":[-1.25,1.35],"nice":false,"zero":false},"axis":{"orient":"bottom","values":[-1,-0.5,0,0.5,1],"labelExpr":"''+datum.value","grid":true,"gridColor":"#dfdfdf","gridWidth":2,"tickSize":-14,"tickWidth":2,"tickColor":"#333333","domain":false,"labelFontSize":54,"labelColor":"#262626","labelPadding":49,"title":"x₁","titleFont":"Liberation Serif","titleFontStyle":"italic","titleFontWeight":"normal","titleFontSize":96,"titleColor":"#262626","titleY":100}},"y":{"field":"y","type":"quantitative","scale":{"domain":[-1.9,1.75],"nice":false,"zero":false},"axis":{"orient":"left","values":[-1.5,-1,-0.5,0,0.5,1,1.5],"labelExpr":"''+datum.value","grid":true,"gridColor":"#dfdfdf","gridWidth":2,"tickSize":-14,"tickWidth":2,"tickColor":"#333333","domain":false,"labelFontSize":54,"labelColor":"#262626","labelPadding":37,"labelOffset":3,"title":"x₂","titleFont":"Liberation Serif","titleFontStyle":"italic","titleFontWeight":"normal","titleFontSize":96,"titleColor":"#262626","titleX":-158}},"color":{"field":"z","type":"quantitative","scale":{"domain":[-2.5,-1.875,-1.25,-0.625,0,0.625,1.25,1.875,2.5],"range":["#000080","#0000ff","#0080ff","#00ffff","#80ff80","#ffff00","#ff8000","#ff0000","#800000"],"clamp":true},"legend":{"orient":"none","legendX":1662,"legendY":0,"title":null,"type":"gradient","gradientLength":1407,"gradientThickness":88,"gradientStrokeColor":"#333333","gradientStrokeWidth":2,"values":[-2.5,-2,-1.5,-1,-0.5,0,0.5,1,1.5,2,2.5],"labelExpr":"''+datum.value","labelFontSize":50,"labelColor":"#262626","labelOffset":22,"labelOverlap":false,"labelBaseline":"middle","encoding":{"labels":{"update":{"baseline":{"value":"middle"},"dy":{"value":7}}}}}}}},{"mark":{"type":"rect","opacity":0},"encoding":{"x":{"field":"x","type":"quantitative","axis":{"orient":"top","values":[-1,-0.5,0,0.5,1],"labels":false,"grid":false,"tickSize":-14,"tickWidth":2,"tickColor":"#333333","domain":false,"title":null}},"y":{"field":"y","type":"quantitative","axis":{"orient":"right","values":[-1.5,-1,-0.5,0,0.5,1,1.5],"labels":false,"grid":false,"tickSize":-14,"tickWidth":2,"tickColor":"#333333","domain":false,"title":"u₂","titleFont":"Liberation Serif","titleFontStyle":"italic","titleFontWeight":"normal","titleFontSize":96,"titleColor":"#262626","titleAngle":90,"titleX":278,"titleY":704}}}}],"resolve":{"axis":{"x":"independent","y":"independent"}}}
